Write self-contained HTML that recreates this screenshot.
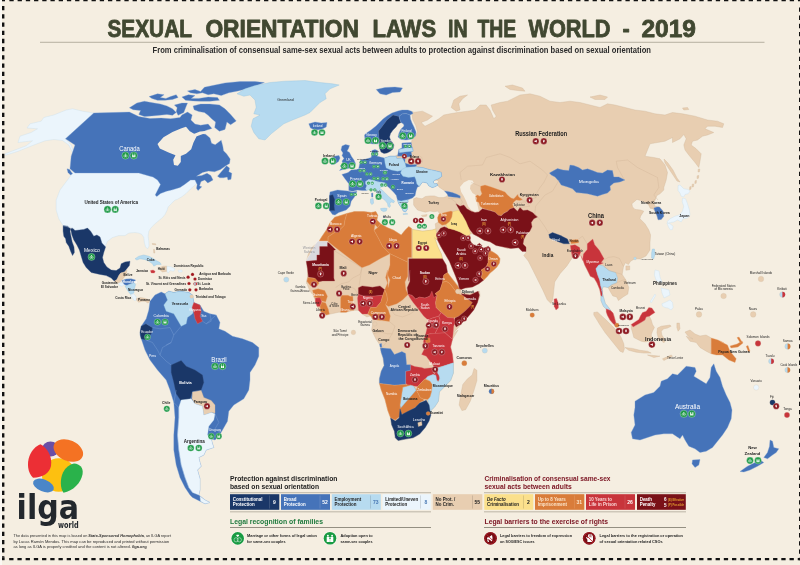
<!DOCTYPE html>
<html><head><meta charset="utf-8"><title>Sexual Orientation Laws in the World - 2019</title>
<style>
html,body{margin:0;padding:0;background:#f5eee1;}
body{width:800px;height:565px;overflow:hidden;}
svg{display:block;font-family:"Liberation Sans",sans-serif;}
</style></head><body>
<svg width="800" height="565" viewBox="0 0 800 565">
<rect x="0" y="0" width="800" height="565" fill="#f5eee1"/>
<rect x="0" y="0" width="2" height="565" fill="#fbf8f2"/>
<path d="M9.4 0.2H800" stroke="#111" stroke-width="2.1" stroke-dasharray="4.3 3.914" fill="none"/>
<path d="M3.2 6V557" stroke="#111" stroke-width="2.4" stroke-dasharray="4.3 3.914" fill="none"/>
<path d="M9.2 559.1H800" stroke="#111" stroke-width="2.3" stroke-dasharray="4.3 3.914" fill="none"/>
<path d="M799.8 7.4V557" stroke="#111" stroke-width="1.6" stroke-dasharray="4.3 3.914" fill="none"/>
<rect x="2" y="0" width="3" height="1.3" fill="#111"/><rect x="2" y="557.2" width="2.6" height="3" fill="#111"/><rect x="798.8" y="557.8" width="1.2" height="2.4" fill="#111"/>
<text x="107.4" y="37.2" font-size="23.5" fill="#414831" stroke="#414831" stroke-width="0.8" stroke-linejoin="round" font-weight="bold" textLength="84.6" lengthAdjust="spacingAndGlyphs">SEXUAL</text>
<text x="205.4" y="37.2" font-size="23.5" fill="#414831" stroke="#414831" stroke-width="0.8" stroke-linejoin="round" font-weight="bold" textLength="153.6" lengthAdjust="spacingAndGlyphs">ORIENTATION</text>
<text x="372.4" y="37.2" font-size="23.5" fill="#414831" stroke="#414831" stroke-width="0.8" stroke-linejoin="round" font-weight="bold" textLength="63.8" lengthAdjust="spacingAndGlyphs">LAWS</text>
<text x="448.0" y="37.2" font-size="23.5" fill="#414831" stroke="#414831" stroke-width="0.8" stroke-linejoin="round" font-weight="bold" textLength="19.6" lengthAdjust="spacingAndGlyphs">IN</text>
<text x="477.4" y="37.2" font-size="23.5" fill="#414831" stroke="#414831" stroke-width="0.8" stroke-linejoin="round" font-weight="bold" textLength="38.8" lengthAdjust="spacingAndGlyphs">THE</text>
<text x="528.4" y="37.2" font-size="23.5" fill="#414831" stroke="#414831" stroke-width="0.8" stroke-linejoin="round" font-weight="bold" textLength="82.2" lengthAdjust="spacingAndGlyphs">WORLD</text>
<text x="622.4" y="37.2" font-size="23.5" fill="#414831" stroke="#414831" stroke-width="0.8" stroke-linejoin="round" font-weight="bold" textLength="7.2" lengthAdjust="spacingAndGlyphs">-</text>
<text x="641.4" y="37.2" font-size="23.5" fill="#414831" stroke="#414831" stroke-width="0.8" stroke-linejoin="round" font-weight="bold" textLength="54.6" lengthAdjust="spacingAndGlyphs">2019</text>
<rect x="40" y="41.8" width="724.5" height="0.9" fill="#aea899"/>
<text x="152.6" y="52.6" font-size="8.3" fill="#2a2a2a" font-weight="bold" textLength="498.4" lengthAdjust="spacingAndGlyphs">From criminalisation of consensual same-sex sexual acts between adults to protection against discrimination based on sexual orientation</text>
<g stroke-linejoin="round">
<polygon points="93.8,113.0 82.5,111.2 72.5,108.8 66.2,110.0 53.8,115.0 43.8,117.5 41.2,121.2 30.0,123.8 27.0,128.0 37.5,128.8 31.2,132.5 20.0,136.2 18.0,142.5 32.5,140.8 26.2,145.8 15.0,150.0 5.0,153.8 5.5,155.2 17.5,151.5 33.8,145.0 45.0,140.8 53.8,139.5 62.5,140.5 68.8,145.0 72.5,152.5 74.0,153.0 71.2,145.0 65.5,138.8" fill="#ebf5fc" stroke="#c5dcea" stroke-width="0.35"/>
<polygon points="75.0,170.0 67.5,180.0 60.0,190.0 56.2,200.0 56.2,210.0 58.8,218.8 63.1,225.6 67.5,226.2 72.5,228.1 75.0,230.6 83.8,229.4 87.5,228.1 90.6,231.2 93.8,236.2 96.9,235.0 100.0,236.9 101.9,243.1 105.6,246.9 105.0,246.9 107.5,241.2 112.5,237.5 118.8,235.6 125.0,235.6 128.8,233.1 135.0,232.5 138.8,233.1 141.9,234.4 143.8,237.5 144.4,242.5 145.6,246.9 147.5,248.8 149.0,246.2 148.8,241.2 148.1,236.2 148.8,231.2 151.2,227.5 155.0,223.8 158.8,220.6 162.5,217.5 165.0,214.4 166.9,210.6 168.1,206.9 171.2,203.8 175.0,200.0 177.0,199.5 182.2,196.5 186.0,193.5 190.5,189.0 196.5,183.8 195.0,177.0 180.0,177.0 150.0,170.0" fill="#ebf5fc" stroke="#c5dcea" stroke-width="0.35"/>
<polygon points="93.8,113.0 129.4,112.1 138.8,116.6 150.0,118.5 161.2,118.1 170.6,118.7 180.0,117.4 181.9,114.9 187.5,112.1 192.2,114.9 190.9,120.0 195.0,124.1 200.6,125.2 208.1,124.1 211.9,128.4 206.2,130.3 199.5,133.5 205.5,134.2 210.0,138.0 211.5,143.2 215.2,144.8 221.2,140.2 222.8,146.2 223.5,150.8 226.5,153.8 230.2,159.0 229.5,163.5 225.8,165.8 220.5,169.5 214.5,171.8 208.5,171.0 202.5,172.5 196.5,176.2 201.8,175.5 207.0,173.2 210.8,175.5 213.0,180.0 207.8,183.0 204.8,180.0 201.0,181.5 199.5,186.0 201.8,186.8 198.0,190.5 196.5,188.2 197.2,184.5 195.0,180.0 190.5,180.0 184.5,184.5 180.0,187.5 172.5,189.8 166.5,191.2 160.5,193.5 156.8,196.5 155.2,195.0 158.2,189.0 160.5,184.5 157.5,180.0 153.0,177.0 150.0,176.2 138.8,173.0 75.0,173.0 70.0,168.8 71.2,156.2 75.0,145.0 65.5,138.8" fill="#4573b9" stroke="#7a9fd4" stroke-width="0.35"/>
<polygon points="157.5,144.0 163.5,137.2 172.5,132.0 181.5,128.2 186.0,126.8 189.8,131.2 195.0,134.2 196.5,136.5 193.5,142.5 191.2,149.2 186.0,153.8 180.8,156.0 180.8,162.0 177.8,165.8 174.0,165.0 173.2,159.8 175.5,155.2 168.0,152.2 159.8,148.5" fill="#f5eee1"/>
<polygon points="192.5,134.5 200.0,131.5 210.0,130.8 222.5,132.0 226.2,135.5 220.5,138.5 213.8,134.8 205.0,133.2 196.2,136.5" fill="#f5eee1"/>
<polygon points="67.0,168.8 69.5,169.5 72.5,173.8 70.5,175.0 68.0,172.5" fill="#4573b9" stroke="#7a9fd4" stroke-width="0.35"/>
<polygon points="129.4,107.8 136.9,103.1 144.4,101.2 152.8,102.8 160.3,104.1 166.9,105.9 172.5,108.8 176.2,112.5 172.5,115.3 166.9,114.4 159.4,115.3 151.9,115.9 144.4,116.6 138.8,114.4 140.6,110.6 133.1,109.7" fill="#4573b9" stroke="#7a9fd4" stroke-width="0.35"/>
<polygon points="149.1,96.6 157.5,93.8 164.1,94.7 160.3,97.5 165.9,98.4 170.6,96.6 176.2,94.7 178.1,97.5 172.5,99.4 165.0,100.3 157.5,100.3 151.9,98.4" fill="#4573b9" stroke="#7a9fd4" stroke-width="0.35"/>
<polygon points="181.9,97.1 188.4,94.7 195.0,95.6 191.2,98.4 198.8,98.4 208.1,97.1 217.5,97.5 219.4,100.3 210.0,101.2 200.6,101.2 193.1,100.9 185.6,100.3" fill="#4573b9" stroke="#7a9fd4" stroke-width="0.35"/>
<polygon points="187.5,90.9 195.0,89.6 200.6,91.5 204.4,87.2 213.8,85.3 225.0,82.9 240.0,81.6 255.0,81.6 264.4,82.5 255.0,86.2 245.6,89.1 238.1,90.9 228.8,92.8 221.2,95.6 213.8,93.8 208.1,94.7 202.5,92.8 196.9,93.8 190.3,92.8" fill="#4573b9" stroke="#7a9fd4" stroke-width="0.35"/>
<polygon points="174.4,105.0 181.9,103.1 187.5,103.1 185.6,107.8 183.8,112.5 178.1,115.3 176.2,111.6 177.2,107.8" fill="#4573b9" stroke="#7a9fd4" stroke-width="0.35"/>
<polygon points="193.1,105.9 200.6,104.1 210.0,104.1 219.4,105.0 225.0,108.8 230.6,114.4 236.2,120.9 230.6,124.7 226.9,121.9 225.0,129.4 219.4,131.2 214.7,127.5 215.6,121.9 211.9,119.1 208.1,115.3 204.4,112.5 198.8,111.6 194.1,109.7" fill="#4573b9" stroke="#7a9fd4" stroke-width="0.35"/>
<polygon points="217.5,176.2 222.0,171.0 226.5,165.8 229.5,168.0 228.8,171.8 231.8,173.2 231.0,179.2 228.0,180.0 227.2,177.0 223.5,177.8 219.8,177.8" fill="#4573b9" stroke="#7a9fd4" stroke-width="0.35"/>
<polygon points="237.0,93.8 245.0,88.8 255.0,85.5 270.0,82.5 285.0,81.2 305.0,80.5 320.0,82.5 332.5,83.8 339.2,85.0 330.0,88.8 325.0,93.8 326.2,98.8 320.0,102.5 315.0,107.5 310.0,112.5 305.0,115.0 292.5,120.0 283.8,123.8 277.5,128.8 271.2,133.8 265.0,140.0 258.8,138.8 253.8,132.5 251.2,126.2 253.0,118.8 260.0,115.0 253.8,113.8 256.2,107.5 255.0,100.0 250.0,95.0 243.8,96.2" fill="#b7dbf0" stroke="#8fbfdc" stroke-width="0.35"/>
<polygon points="70.6,228.8 72.5,228.1 75.0,230.6 83.8,229.4 87.5,228.1 90.6,231.2 93.8,236.2 96.9,235.0 100.0,236.9 101.9,243.1 105.6,246.9 103.8,252.5 102.5,257.5 103.8,262.5 106.9,266.9 111.2,270.0 116.2,270.6 120.0,268.1 121.2,263.8 125.0,261.9 130.0,261.2 129.4,265.6 126.2,269.4 124.4,271.9 120.6,273.1 118.8,275.6 116.9,279.4 114.4,281.2 111.2,278.1 106.2,275.6 100.0,274.4 91.2,272.5 86.2,267.5 83.1,262.5 81.2,256.2 79.4,250.0 76.9,245.0 73.8,240.0 71.9,235.0" fill="#1a3768" stroke="#3a5788" stroke-width="0.35"/>
<polygon points="63.1,225.6 67.5,226.2 70.6,228.8 70.0,231.2 71.0,236.2 72.2,241.9 74.0,246.9 74.4,252.5 72.5,255.6 70.6,251.2 68.8,246.2 66.2,242.5 65.6,238.8 63.8,236.2 63.1,231.2" fill="#1a3768" stroke="#3a5788" stroke-width="0.35"/>
<polygon points="124.4,271.9 126.9,270.0 126.2,275.0 124.4,276.9 123.1,275.0" fill="#e8ceb1" stroke="#cdb497" stroke-width="0.35"/>
<polygon points="114.4,281.2 116.9,279.4 118.8,275.6 120.6,273.1 124.4,271.9 123.1,275.0 124.4,276.9 121.9,280.0 119.4,282.5 116.2,282.8" fill="#e8ceb1" stroke="#cdb497" stroke-width="0.35"/>
<polygon points="121.9,280.6 126.2,279.0 131.2,278.8 135.6,280.0 133.8,282.8 130.0,284.0 126.9,285.6 123.8,284.4" fill="#4573b9" stroke="#7a9fd4" stroke-width="0.35"/>
<polygon points="118.8,283.1 122.5,282.8 124.4,285.0 121.9,286.2 119.0,285.2" fill="#ebf5fc" stroke="#c5dcea" stroke-width="0.35"/>
<polygon points="125.0,286.2 129.4,284.4 134.4,282.8 135.6,284.4 134.4,288.8 133.8,293.1 130.6,294.4 128.1,291.2 126.2,288.1" fill="#b7dbf0" stroke="#8fbfdc" stroke-width="0.35"/>
<polygon points="130.6,294.8 133.8,293.8 136.2,296.9 136.9,300.0 134.4,300.6 132.5,298.1" fill="#ebf5fc" stroke="#c5dcea" stroke-width="0.35"/>
<polygon points="136.2,298.8 140.0,297.5 143.8,298.1 148.1,299.4 150.0,301.2 148.1,303.1 145.0,301.2 141.9,301.2 138.8,302.2 136.9,300.6" fill="#e8ceb1" stroke="#cdb497" stroke-width="0.35"/>
<polygon points="135.0,258.8 138.8,256.2 143.8,255.0 148.8,256.2 152.5,258.1 156.2,260.6 160.0,262.5 161.2,264.4 156.9,264.4 153.8,266.2 152.5,263.8 148.8,261.2 144.4,259.4 140.0,258.8 136.9,260.0" fill="#b7dbf0" stroke="#8fbfdc" stroke-width="0.35"/>
<polygon points="160.0,267.5 163.1,266.2 166.9,266.2 166.9,271.2 162.5,271.9 160.6,270.6" fill="#e8ceb1" stroke="#cdb497" stroke-width="0.35"/>
<polygon points="166.9,266.2 171.2,266.9 175.0,268.8 173.8,271.2 170.0,270.6 168.1,273.1 166.9,271.2" fill="#ebf5fc" stroke="#c5dcea" stroke-width="0.35"/>
<polygon points="150.4,270.6 153.1,270.0 155.2,271.2 154.4,273.1 151.2,272.9" fill="#c8343b" stroke="#e07a7e" stroke-width="0.35"/>
<polygon points="178.1,270.2 181.9,270.0 182.2,271.9 178.8,272.2" fill="#ebf5fc" stroke="#c5dcea" stroke-width="0.35"/>
<polygon points="152.2,243.5 155.6,243.8 155.9,244.8 152.5,244.5" fill="#e8ceb1" stroke="#cdb497" stroke-width="0.35"/>
<polygon points="153.5,249.4 154.5,249.4 154.8,253.1 153.8,253.1" fill="#e8ceb1" stroke="#cdb497" stroke-width="0.35"/>
<polygon points="150.0,301.2 155.0,295.0 161.2,292.0 165.0,293.8 168.8,291.2 173.8,292.5 180.0,291.2 188.8,292.5 192.5,295.0 193.8,302.5 200.0,305.0 203.8,311.2 210.0,313.8 216.2,315.0 220.0,322.5 218.8,328.8 225.0,331.2 232.5,336.2 242.5,338.8 252.5,342.5 258.8,347.5 258.8,356.2 255.0,365.0 250.0,372.5 250.0,380.0 248.8,390.0 243.8,398.8 233.8,405.0 228.8,411.2 227.5,421.2 222.5,430.0 218.8,436.2 215.0,440.0 211.2,438.8 212.5,443.8 213.8,447.5 206.2,450.0 203.8,455.0 198.8,457.5 200.0,462.5 201.2,466.2 197.5,470.0 200.0,478.8 200.0,490.0 198.8,495.0 205.0,500.0 210.0,502.5 205.0,503.8 197.5,500.0 192.5,497.5 190.0,495.0 185.0,487.5 180.0,477.5 176.2,465.0 173.8,450.0 173.8,435.0 175.0,417.5 173.8,402.5 170.0,390.0 166.2,380.0 157.5,370.0 150.0,360.0 145.0,350.0 142.5,342.5 140.0,335.0 141.2,326.2 146.2,318.8 148.8,310.0" fill="#4573b9" stroke="#7a9fd4" stroke-width="0.35"/>
<polygon points="165.0,293.8 168.8,291.2 173.8,292.5 180.0,291.2 188.8,292.5 192.5,295.0 193.8,302.5 195.0,307.5 192.5,313.8 187.5,317.5 186.2,323.8 181.2,326.2 177.5,320.0 173.8,313.8 166.2,311.2 163.8,305.0 167.5,300.0" fill="#b7dbf0" stroke="#8fbfdc" stroke-width="0.35"/>
<polygon points="193.8,302.5 200.0,305.0 201.2,311.2 200.0,316.2 202.5,321.2 197.5,323.8 195.0,318.8 193.8,312.5 192.0,307.5" fill="#c8343b" stroke="#e07a7e" stroke-width="0.35"/>
<polygon points="141.2,326.2 146.2,323.8 152.5,327.5 151.2,333.8 146.2,340.0 141.2,338.8 140.0,332.5" fill="#1a3768" stroke="#3a5788" stroke-width="0.35"/>
<polygon points="171.2,365.0 181.2,360.5 186.2,366.2 195.0,370.0 202.5,375.0 203.8,382.5 201.2,390.0 192.5,391.2 190.0,400.0 181.2,401.2 176.2,393.8 173.8,382.5 171.2,372.5" fill="#1a3768" stroke="#3a5788" stroke-width="0.35"/>
<polygon points="192.5,392.0 201.2,390.5 203.8,397.5 211.2,400.5 215.0,405.0 215.0,413.0 211.2,412.5 203.8,415.0 202.5,406.2 195.0,403.8 192.0,398.8" fill="#e8ceb1" stroke="#cdb497" stroke-width="0.35"/>
<polygon points="181.2,400.0 191.2,398.8 195.0,403.8 202.5,406.2 203.8,415.0 211.2,412.5 215.0,413.8 213.8,420.0 208.8,426.2 207.5,435.0 211.2,438.8 212.5,443.8 213.8,447.5 206.2,450.0 203.8,455.0 198.8,457.5 200.0,462.5 201.2,466.2 197.5,470.0 200.0,478.8 200.0,490.0 198.8,495.0 192.5,492.5 188.8,487.5 185.0,477.5 181.2,465.0 178.8,450.0 177.5,435.0 178.8,417.5 178.8,407.5" fill="#ebf5fc" stroke="#c5dcea" stroke-width="0.35"/>
<polygon points="200.0,496.2 205.0,500.0 210.0,502.5 205.0,503.8 200.5,501.2" fill="#ebf5fc" stroke="#c5dcea" stroke-width="0.35"/>
<polygon points="321.6,236.9 326.2,230.3 330.0,222.8 334.7,217.2 341.2,215.3 346.9,213.4 354.4,211.6 363.8,211.6 371.2,212.5 375.9,211.6 377.8,215.3 376.9,220.0 380.6,223.8 387.2,227.5 393.8,230.3 401.2,235.0 405.0,230.3 408.8,226.6 411.6,228.4 412.5,229.5 422.5,231.2 432.5,230.0 436.2,228.8 440.0,232.5 438.8,237.5 437.0,240.0 434.5,237.5 437.5,246.2 441.2,253.8 442.5,258.8 446.2,265.0 447.5,272.5 451.2,277.5 457.5,285.0 460.0,288.8 462.0,293.0 470.0,293.8 479.5,291.2 480.0,296.2 476.2,305.0 470.0,313.8 462.5,322.5 456.2,330.0 452.5,335.0 458.1,330.0 452.5,339.4 450.6,346.9 452.5,354.4 453.4,362.8 453.4,373.1 450.6,380.6 445.0,386.2 439.4,391.9 438.4,401.2 434.7,406.9 430.9,410.6 430.9,413.4 429.1,418.1 426.2,423.8 422.5,429.4 416.9,435.9 413.1,437.8 405.6,439.1 398.1,440.6 395.3,437.8 394.4,431.2 391.6,424.7 390.6,418.1 390.6,418.1 387.8,410.6 385.0,399.4 381.2,390.0 379.4,383.4 379.4,378.8 381.2,371.2 384.1,365.6 383.1,358.1 381.2,352.5 380.3,347.8 380.9,348.8 380.0,345.0 376.2,339.4 373.4,333.8 371.6,330.0 372.5,324.4 372.5,319.7 370.6,315.9 366.9,316.9 362.2,314.1 358.4,310.3 353.8,310.3 346.2,312.2 338.8,312.2 330.3,314.1 326.6,315.0 320.9,312.2 317.2,306.6 315.3,300.0 312.5,294.4 309.7,290.6 307.8,285.9 306.9,281.2 307.8,277.5 306.6,283.8 307.5,277.2 307.5,268.8 306.6,260.3 308.4,253.8 312.2,247.2 318.8,241.6" fill="#e8ceb1" stroke="#cdb497" stroke-width="0.35"/>
<polygon points="334.7,217.2 341.2,215.3 346.9,213.4 345.0,220.0 344.1,225.6 339.4,230.3 333.8,233.1 328.1,236.9 328.1,241.6 318.8,241.6 321.6,236.9 326.2,230.3 330.0,222.8" fill="#d97c3a" stroke="#e8a470" stroke-width="0.35"/>
<polygon points="346.9,213.4 354.4,211.6 363.8,211.6 371.2,212.5 372.2,218.1 375.0,224.7 374.1,230.3 378.8,238.8 382.5,246.2 390.0,253.8 380.6,258.4 369.4,265.0 361.9,267.8 333.8,246.2 328.1,241.6 328.1,236.9 333.8,233.1 339.4,230.3 344.1,225.6 345.0,220.0" fill="#d97c3a" stroke="#e8a470" stroke-width="0.35"/>
<polygon points="371.2,212.5 375.9,211.6 377.8,215.3 376.9,220.0 380.6,223.8 377.8,227.5 375.0,224.7 372.2,218.1" fill="#d97c3a" stroke="#e8a470" stroke-width="0.35"/>
<polygon points="380.6,223.8 387.2,227.5 393.8,230.3 401.2,235.0 405.0,230.3 408.8,226.6 411.6,228.4 411.6,257.5 407.8,257.5 407.8,262.2 390.0,253.8 382.5,246.2 378.8,238.8 374.1,230.3 377.8,227.5" fill="#d97c3a" stroke="#e8a470" stroke-width="0.35"/>
<polygon points="317.5,241.2 327.5,241.2 327.5,246.6 319.7,246.6 319.7,255.0 316.9,255.0 316.9,260.3 306.2,261.2 307.5,258.1 310.0,254.4 312.5,249.4 315.0,245.0" fill="#dad9de" stroke="#fbfbfb" stroke-width="0.35"/>
<polygon points="327.5,246.6 327.5,242.5 328.8,243.1 335.6,249.7 333.8,250.3 333.8,278.1 334.7,280.9 322.5,280.9 317.8,281.9 314.1,278.1 308.4,277.2 307.5,268.8 306.2,261.2 316.9,260.3 316.9,255.0 319.7,255.0 319.7,246.6" fill="#7a1118" stroke="#a04048" stroke-width="0.35"/>
<polygon points="390.0,253.8 407.8,262.2 407.8,276.2 405.0,281.9 405.9,289.4 408.1,294.4 402.5,300.0 396.9,303.8 388.4,306.6 385.6,304.7 387.5,300.0 386.6,294.4 384.7,289.7 387.5,283.1 385.6,277.5 387.5,270.0 388.1,287.5 390.0,280.0 387.2,274.4 390.0,265.0" fill="#d97c3a" stroke="#e8a470" stroke-width="0.35"/>
<polygon points="412.5,229.5 422.5,231.2 432.5,230.0 436.2,228.8 440.0,232.5 438.8,237.5 437.0,240.0 434.5,237.5 437.5,246.2 441.2,253.8 442.5,258.8 412.5,258.8" fill="#fbe08c" stroke="#d9c070" stroke-width="0.35"/>
<polygon points="408.8,258.8 442.5,258.8 446.2,265.0 447.5,272.5 443.8,275.0 442.5,282.5 440.0,290.0 435.0,293.8 437.2,295.3 434.4,298.1 429.7,296.2 425.0,298.1 419.4,297.2 415.6,299.1 411.9,295.3 408.1,294.4 407.2,287.8 410.0,281.2 410.0,270.0 408.8,281.2" fill="#7a1118" stroke="#a04048" stroke-width="0.35"/>
<polygon points="408.1,294.4 411.9,295.2 415.6,299.0 419.4,297.1 425.0,298.1 429.6,296.2 431.9,291.2 433.8,297.5 437.1,295.2 435.6,302.5 436.2,307.5 441.2,312.5 438.8,316.2 432.5,318.1 428.1,320.0 423.8,316.2 420.0,311.2 416.2,306.2 413.1,302.5 410.0,298.1" fill="#c8343b" stroke="#e07a7e" stroke-width="0.35"/>
<polygon points="443.8,275.0 447.5,272.5 451.2,277.5 455.0,282.5 458.8,287.5 460.0,290.6 456.2,291.9 453.8,288.8 450.0,283.8 446.2,281.2 442.5,282.5" fill="#d97c3a" stroke="#e8a470" stroke-width="0.35"/>
<polygon points="442.5,282.5 446.2,281.2 450.0,283.8 453.8,288.8 456.2,291.9 460.0,294.4 462.5,295.0 467.5,298.8 472.5,302.5 470.0,306.2 465.0,311.2 458.8,316.2 453.8,318.1 447.5,317.5 441.2,312.5 436.2,307.5 435.6,302.5 437.1,295.2 435.0,293.8 440.0,290.0" fill="#d97c3a" stroke="#e8a470" stroke-width="0.35"/>
<polygon points="461.2,293.8 470.0,295.0 478.1,291.2 479.4,295.0 477.5,302.5 473.8,310.0 467.5,317.5 461.2,323.8 456.2,326.9 453.8,322.5 455.0,318.1 458.8,316.2 465.0,311.2 470.0,306.2 472.5,302.5 467.5,298.8 462.5,295.0" fill="#7a1118" stroke="#a04048" stroke-width="0.35"/>
<polygon points="438.8,316.2 441.2,312.5 447.5,317.5 453.8,318.1 455.0,322.5 453.8,326.0 452.5,339.4 445.0,332.8 434.7,334.1 438.8,326.0 440.0,320.0" fill="#c8343b" stroke="#e07a7e" stroke-width="0.35"/>
<polygon points="428.1,320.0 432.5,318.1 438.8,316.2 440.0,320.0 438.8,326.0 434.7,334.1 430.0,333.8 425.3,335.6 427.5,326.0" fill="#c8343b" stroke="#e07a7e" stroke-width="0.35"/>
<polygon points="425.3,335.6 430.0,333.8 445.0,332.8 452.5,339.4 450.6,346.9 452.5,354.4 453.4,362.8 445.0,365.6 437.5,367.5 438.4,373.1 440.3,376.9 438.4,381.6 435.6,378.8 434.7,373.1 434.7,367.5 426.2,356.2 421.6,354.4 424.4,348.8 423.4,341.2" fill="#c8343b" stroke="#e07a7e" stroke-width="0.35"/>
<polygon points="405.6,371.2 410.3,370.3 410.3,364.7 415.0,366.6 421.6,367.5 424.4,368.4 434.7,367.5 433.0,372.2 436.0,375.6 433.0,374.5 427.8,376.4 425.9,378.6 424.8,379.0 419.5,384.6 417.6,386.5 413.5,386.1 408.2,386.5 406.0,383.5 405.6,384.4" fill="#c8343b" stroke="#e07a7e" stroke-width="0.35"/>
<polygon points="425.4,338.4 429.7,337.9 430.2,342.2 426.1,343.1" fill="#d97c3a" stroke="#e8a470" stroke-width="0.35"/>
<polygon points="425.9,378.6 427.8,376.4 433.0,374.5 436.0,375.6 436.8,380.5 438.2,382.0 439.8,379.0 439.0,375.6 437.5,373.0 437.9,368.1 445.0,365.6 453.4,362.8 453.4,373.1 450.6,380.6 445.0,386.2 439.4,391.9 438.4,401.2 434.7,406.9 430.9,410.6 431.5,412.0 429.2,412.0 428.9,405.2 428.1,401.5 427.8,399.6 430.0,397.0 431.5,391.8 432.2,384.6 430.0,381.2" fill="#b7dbf0" stroke="#8fbfdc" stroke-width="0.35"/>
<polygon points="417.6,386.5 419.5,384.6 424.8,379.0 430.0,381.2 432.2,384.6 431.5,391.8 430.0,397.0 427.8,399.6 423.2,398.9 420.2,397.8 418.0,393.2 416.1,390.2" fill="#d97c3a" stroke="#e8a470" stroke-width="0.35"/>
<polygon points="402.8,387.2 410.3,385.3 413.5,386.1 416.1,390.2 418.0,393.2 420.2,397.8 423.2,398.9 424.0,400.4 420.2,402.2 417.2,406.0 404.7,414.4 400.0,413.4 400.0,405.0" fill="#d97c3a" stroke="#e8a470" stroke-width="0.35"/>
<polygon points="402.8,387.2 410.3,385.3 413.5,386.1 416.1,390.2 400.9,407.8 400.0,405.0" fill="#b7dbf0" stroke="#8fbfdc" stroke-width="0.35"/>
<polygon points="380.3,347.8 390.6,348.8 394.4,354.4 401.9,351.6 405.6,353.4 406.6,364.7 410.3,364.7 410.3,370.3 405.6,371.2 405.6,384.4 394.4,385.3 379.4,383.4 379.4,378.8 381.2,371.2 384.1,365.6 383.1,358.1 381.2,352.5" fill="#4573b9" stroke="#7a9fd4" stroke-width="0.35"/>
<polygon points="379.6,344.1 381.5,343.5 381.9,347.2 380.0,346.9" fill="#4573b9" stroke="#7a9fd4" stroke-width="0.35"/>
<polygon points="379.4,383.4 394.4,385.3 405.6,384.4 410.3,385.3 402.8,387.2 400.0,405.0 400.0,416.2 395.3,420.0 390.6,418.1 387.8,410.6 385.0,399.4 381.2,390.0" fill="#d97c3a" stroke="#e8a470" stroke-width="0.35"/>
<polygon points="390.6,418.1 395.3,420.9 399.1,418.1 400.0,408.8 401.9,414.4 407.5,411.6 415.0,407.8 419.7,403.1 426.2,400.3 429.1,405.0 430.0,410.6 430.9,415.3 429.1,420.9 425.3,427.5 419.7,434.1 413.1,437.8 405.6,439.1 398.1,440.6 395.3,437.8 394.4,431.2 391.6,424.7" fill="#1a3768" stroke="#3a5788" stroke-width="0.35"/>
<polygon points="417.8,422.8 421.6,421.5 422.1,425.2 418.4,426.6" fill="#e8ceb1" stroke="#cdb497" stroke-width="0.35"/>
<polygon points="307.8,277.5 315.3,278.4 319.1,283.1 317.2,285.9 310.6,285.9 306.9,281.2" fill="#d97c3a" stroke="#e8a470" stroke-width="0.35"/>
<polygon points="312.5,290.2 318.1,288.8 324.7,290.6 327.5,296.2 325.6,301.9 321.9,300.9 318.1,298.1 314.4,297.2" fill="#d97c3a" stroke="#e8a470" stroke-width="0.35"/>
<polygon points="315.3,298.1 320.0,297.8 321.9,301.9 320.0,306.6 317.2,306.6 315.3,301.9" fill="#c8343b" stroke="#e07a7e" stroke-width="0.35"/>
<polygon points="320.0,306.6 321.9,301.9 325.6,302.8 328.4,309.4 329.4,314.1 326.6,315.0 320.9,312.2" fill="#d97c3a" stroke="#e8a470" stroke-width="0.35"/>
<polygon points="340.6,298.1 341.6,295.3 348.1,295.3 350.0,296.2 352.8,296.2 353.8,310.3 350.0,310.3 346.2,312.2 340.6,312.2" fill="#d97c3a" stroke="#e8a470" stroke-width="0.35"/>
<polygon points="358.4,287.8 362.2,285.9 372.5,287.2 380.0,285.9 384.7,289.7 382.8,295.3 372.5,296.2 363.1,295.9 358.4,294.4" fill="#7a1118" stroke="#a04048" stroke-width="0.35"/>
<polygon points="357.5,298.1 358.4,294.4 363.1,295.9 372.5,296.2 382.8,295.3 380.9,301.9 376.2,307.5 370.6,307.5 367.8,314.1 362.2,314.1 358.4,310.3" fill="#c8343b" stroke="#e07a7e" stroke-width="0.35"/>
<polygon points="382.8,295.3 384.7,289.7 386.6,294.4 387.5,300.0 385.6,304.7 388.4,310.3 390.3,315.9 389.4,321.6 381.9,320.6 373.4,319.7 370.6,315.9 367.8,314.1 370.6,307.5 376.2,307.5 380.9,301.9" fill="#d97c3a" stroke="#e8a470" stroke-width="0.35"/>
<polygon points="474.1,368.4 476.9,370.3 476.9,380.6 474.1,390.0 470.3,401.2 465.6,409.7 461.9,410.6 459.1,405.0 460.9,393.8 462.8,384.4 467.5,378.8 472.2,375.0" fill="#e8ceb1" stroke="#cdb497" stroke-width="0.35"/>
<polygon points="412.8,111.2 412.5,112.5 422.5,111.2 432.5,116.2 427.5,120.0 421.2,122.5 425.0,126.2 432.5,122.5 438.8,118.8 443.8,115.0 450.0,113.8 457.5,112.5 467.5,111.2 475.0,110.0 480.0,105.0 486.2,105.0 490.0,110.0 493.8,118.8 496.2,116.2 492.5,110.0 491.2,105.0 500.0,102.5 507.5,101.2 515.0,97.5 520.0,95.0 530.0,93.8 540.0,96.2 550.0,101.2 560.0,102.5 570.0,101.2 580.0,102.5 590.0,105.0 600.0,107.5 607.5,103.8 615.0,105.0 625.0,107.5 635.0,110.0 645.0,111.2 655.0,113.8 665.0,115.0 672.5,112.5 682.5,113.8 695.0,116.2 707.5,120.0 717.5,121.2 723.8,123.8 722.5,127.5 715.0,126.2 707.5,126.2 705.0,128.8 713.8,132.5 707.5,135.0 702.5,136.2 697.5,140.0 692.5,141.2 691.2,145.0 696.2,148.8 701.2,153.8 700.0,161.2 698.8,167.5 695.0,162.5 688.8,155.0 685.0,150.0 683.8,145.0 686.2,138.8 683.8,134.5 680.0,138.8 672.5,142.5 672.5,137.5 665.0,141.2 657.5,142.5 650.0,143.8 647.5,150.0 645.0,156.2 653.8,157.5 660.0,158.8 665.0,165.0 667.5,172.5 666.2,180.0 663.8,187.5 663.8,190.0 660.0,193.8 656.9,195.6 655.6,198.8 653.8,203.1 655.0,206.2 659.4,206.9 663.1,211.2 663.8,216.2 661.2,219.4 658.1,219.8 656.9,215.6 655.0,211.2 653.1,208.8 650.0,208.1 648.8,205.0 645.0,201.9 640.6,200.6 636.9,199.4 631.9,203.8 632.5,206.9 635.0,209.4 640.6,210.0 643.8,211.2 640.6,216.2 640.0,218.8 645.0,223.8 648.8,230.0 650.6,235.0 650.0,242.5 650.0,250.0 646.0,256.0 640.0,259.0 634.8,258.8 630.6,261.2 628.4,264.6 625.4,262.8 623.5,266.5 622.2,274.4 625.9,280.0 628.8,287.5 627.8,294.1 623.1,296.9 618.4,300.6 616.6,296.9 612.8,295.9 610.0,291.2 608.1,287.5 603.4,286.6 601.6,290.3 603.4,296.9 605.3,303.4 609.1,308.1 610.9,310.9 613.8,314.7 615.6,321.2 616.6,325.0 613.8,324.1 610.0,320.3 607.2,314.7 606.2,309.1 603.4,306.2 601.0,300.6 601.0,295.9 599.7,289.4 596.9,282.8 594.1,278.1 590.3,276.2 587.5,270.6 584.7,265.0 582.8,259.4 580.9,255.6 574.4,253.8 573.4,256.6 570.6,260.3 566.9,265.9 560.3,273.4 554.7,281.9 553.8,290.3 552.8,299.7 550.9,303.4 547.2,299.7 542.5,289.4 537.8,280.0 533.1,270.6 528.4,261.2 523.8,255.6 526.2,252.2 526.2,248.4 523.4,245.6 517.8,247.5 507.5,248.4 501.9,246.6 496.2,244.7 490.0,241.8 484.0,240.2 478.0,236.5 473.5,234.2 470.5,233.5 469.0,238.0 471.2,242.5 473.5,244.8 476.5,245.5 479.5,243.2 481.8,245.5 481.0,248.5 484.8,247.8 488.5,246.2 490.0,250.0 493.8,252.5 497.5,255.0 500.0,258.8 499.4,263.1 496.9,266.9 493.8,270.0 490.0,273.1 487.5,276.2 483.8,280.0 478.8,283.8 472.5,286.9 465.0,288.1 461.2,289.4 459.4,288.8 458.1,283.1 455.6,276.2 452.5,268.8 449.4,261.2 445.0,253.8 440.6,246.2 437.5,240.0 436.8,233.5 436.0,229.8 435.2,223.8 439.4,221.2 438.9,217.3 439.4,213.4 437.8,211.1 434.4,211.7 429.9,211.1 425.4,212.2 420.9,211.1 417.5,210.0 415.2,207.2 413.6,204.9 413.6,202.1 413.6,198.8 416.4,197.6 418.6,198.2 422.0,198.8 425.4,196.5 429.9,195.9 434.4,195.9 438.9,197.6 443.4,197.6 446.8,196.5 447.9,193.7 445.6,191.4 442.2,189.2 438.9,186.9 437.8,185.2 436.6,183.6 438.9,181.9 437.2,180.2 434.4,180.2 438.9,178.5 441.7,176.2 441.1,172.3 434.4,170.6 428.8,169.5 423.1,167.8 413.8,166.6 405.3,165.6 403.4,157.2 396.5,157.8 395.9,155.3 401.6,155.3 410.9,155.3 410.0,150.6 412.8,149.7 411.9,145.9 410.9,145.0 411.9,140.3 414.7,136.6 417.5,131.9 415.6,125.3 412.8,119.7 411.9,114.1" fill="#e8ceb1" stroke="#cdb497" stroke-width="0.35"/>
<polygon points="451.2,107.5 453.8,100.0 460.0,96.2 467.5,95.0 462.5,98.8 458.8,103.8 460.0,110.0 456.2,111.2" fill="#e8ceb1" stroke="#cdb497" stroke-width="0.35"/>
<polygon points="505.0,86.2 512.5,85.0 522.5,88.0 525.0,91.2 517.5,90.5 510.0,89.5" fill="#e8ceb1" stroke="#cdb497" stroke-width="0.35"/>
<polygon points="590.0,97.0 600.0,95.0 607.5,97.0 605.0,99.5 595.0,99.5" fill="#e8ceb1" stroke="#cdb497" stroke-width="0.35"/>
<polygon points="682.5,108.0 687.5,107.5 688.8,109.5 683.8,110.0" fill="#e8ceb1" stroke="#cdb497" stroke-width="0.35"/>
<polygon points="664.0,159.0 668.0,163.0 673.0,170.0 677.0,178.0 680.0,182.0 677.0,181.0 673.0,175.0 669.0,169.0 665.0,163.0" fill="#e8ceb1" stroke="#cdb497" stroke-width="0.35"/>
<polygon points="625.9,265.9 629.7,265.9 629.7,269.7 625.9,270.2" fill="#e8ceb1" stroke="#cdb497" stroke-width="0.35"/>
<polygon points="698.2,169.2 699.8,169.0 699.5,171.8 698.0,172.0" fill="#e8ceb1" stroke="#cdb497" stroke-width="0.35"/>
<polygon points="697.2,175.8 698.8,175.5 698.5,178.2 697.0,178.5" fill="#e8ceb1" stroke="#cdb497" stroke-width="0.35"/>
<polygon points="695.0,180.8 696.5,180.5 696.2,183.2 694.8,183.5" fill="#e8ceb1" stroke="#cdb497" stroke-width="0.35"/>
<polygon points="692.2,184.2 693.8,184.0 693.5,186.8 692.0,187.0" fill="#e8ceb1" stroke="#cdb497" stroke-width="0.35"/>
<polygon points="689.8,186.8 691.2,186.5 691.0,189.2 689.5,189.5" fill="#e8ceb1" stroke="#cdb497" stroke-width="0.35"/>
<polygon points="460.0,186.9 463.8,182.5 468.8,180.0 472.5,180.6 473.8,183.1 470.6,185.0 470.0,188.8 472.5,193.1 475.6,195.0 475.0,198.8 476.9,202.5 478.1,207.5 478.8,211.2 475.0,211.9 471.2,210.0 468.1,206.2 466.2,201.2 463.8,196.2 461.2,191.9" fill="#f5eee1"/>
<polygon points="549.4,173.1 553.8,170.6 557.5,168.5 563.1,170.0 568.8,170.6 570.0,165.0 573.8,165.6 578.8,167.5 582.5,170.0 587.5,168.8 592.5,170.6 597.5,172.5 602.5,173.1 607.5,170.0 612.5,170.6 613.8,176.9 618.8,176.9 625.0,180.0 620.0,181.9 613.8,183.1 610.0,186.2 610.6,190.0 607.5,193.1 602.5,194.4 597.5,196.2 592.5,195.0 587.5,193.8 581.2,193.1 576.2,192.5 572.5,188.8 567.5,186.9 561.2,185.0 558.8,181.2 555.0,176.9 551.2,175.0" fill="#4573b9" stroke="#7a9fd4" stroke-width="0.35"/>
<polygon points="480.6,186.2 485.0,185.0 491.2,186.9 496.2,188.8 501.2,190.6 505.0,191.9 507.5,195.0 511.2,198.1 513.8,198.8 516.2,196.2 517.5,194.4 518.8,196.9 522.5,199.4 520.0,200.6 516.2,200.0 513.8,201.9 512.5,204.4 513.8,207.5 510.0,208.8 507.5,211.2 503.8,213.1 501.2,215.6 498.1,215.0 495.0,211.9 491.2,210.6 486.2,209.4 482.5,208.1 480.0,206.2 478.8,202.5 476.2,201.2 476.9,198.1 475.6,196.2 477.5,195.0 480.0,196.2 481.9,193.8 480.6,190.0" fill="#d97c3a" stroke="#e8a470" stroke-width="0.35"/>
<polygon points="456.2,203.8 460.0,206.2 463.8,205.0 466.9,208.8 471.2,211.2 475.0,212.5 478.8,211.9 482.5,208.8 486.2,209.8 491.2,211.0 495.0,212.2 498.1,215.2 501.2,216.0 503.8,213.5 507.5,211.5 510.0,209.0 513.8,207.8 517.5,211.2 520.0,207.5 523.1,210.6 527.5,210.0 532.5,212.5 537.5,216.9 533.8,218.8 531.2,222.5 532.0,226.8 529.8,231.2 526.0,235.0 523.8,239.5 523.0,244.0 526.0,247.0 526.0,251.5 522.2,251.5 518.5,247.8 511.0,248.5 503.5,247.0 496.0,245.5 490.0,241.8 484.0,240.2 478.0,236.5 473.5,234.2 470.5,230.5 467.5,226.0 464.5,220.0 461.5,214.8 459.2,209.5 456.2,204.2" fill="#7a1118" stroke="#a04048" stroke-width="0.35"/>
<polygon points="436.8,233.5 440.5,228.2 444.2,226.8 448.0,228.2 454.0,229.8 460.0,232.0 465.2,235.0 469.0,238.0 471.2,242.5 473.5,244.8 476.5,245.5 479.5,243.2 481.8,245.5 481.0,248.5 484.8,247.8 488.5,246.2 490.0,250.0 488.1,257.5 488.1,262.5 486.2,266.9 481.2,270.0 482.5,272.5 481.2,277.5 483.8,280.0 478.8,283.8 472.5,286.9 465.0,288.1 461.2,289.4 459.4,288.8 458.1,283.1 455.6,276.2 452.5,268.8 449.4,261.2 445.0,253.8 440.6,246.2 437.5,240.0" fill="#7a1118" stroke="#a04048" stroke-width="0.35"/>
<polygon points="488.8,252.5 490.0,250.6 493.8,252.5 497.5,255.0 500.0,258.8 499.4,263.1 496.9,266.9 493.8,270.0 490.0,273.1 487.5,276.2 483.8,280.0 481.2,277.5 482.5,272.5 481.2,270.0 486.2,266.9 488.1,262.5 488.1,257.5" fill="#d97c3a" stroke="#e8a470" stroke-width="0.35"/>
<polygon points="467.8,235.8 469.9,235.4 470.5,238.3 468.7,238.3" fill="#d97c3a" stroke="#e8a470" stroke-width="0.35"/>
<polygon points="452.5,211.8 458.5,210.2 462.2,214.8 466.0,221.5 469.0,229.0 470.5,233.5 467.8,235.8 465.2,235.0 460.0,232.0 454.0,229.8 448.0,228.2 445.8,224.5 449.5,221.5 451.8,217.0" fill="#fbe08c" stroke="#d9c070" stroke-width="0.35"/>
<polygon points="439.0,214.0 445.0,212.5 451.0,211.0 452.5,211.8 451.8,217.0 449.5,221.5 445.8,224.5 442.0,225.2 438.2,222.2 437.5,217.8" fill="#d97c3a" stroke="#e8a470" stroke-width="0.35"/>
<polygon points="444.5,190.9 447.9,191.4 452.4,192.6 456.9,194.2 460.2,195.9 460.2,198.2 456.9,197.6 452.4,197.1 448.4,196.5 447.3,194.2" fill="#4573b9" stroke="#7a9fd4" stroke-width="0.35"/>
<polygon points="421.4,215.4 427.1,214.5 426.5,216.2 422.6,216.8" fill="#e8ceb1" stroke="#cdb497" stroke-width="0.35"/>
<polygon points="548.8,234.4 552.5,232.5 560.0,235.3 567.5,239.1 569.4,243.8 563.8,243.8 556.2,240.9 549.7,238.1" fill="#1a3768" stroke="#3a5788" stroke-width="0.35"/>
<polygon points="570.3,240.0 577.8,239.6 578.8,242.8 571.2,243.8" fill="#d97c3a" stroke="#e8a470" stroke-width="0.35"/>
<polygon points="570.3,245.6 575.0,244.7 579.7,247.5 580.6,252.2 578.8,256.9 575.9,258.8 572.2,256.9 571.2,251.2" fill="#c8343b" stroke="#e07a7e" stroke-width="0.35"/>
<polygon points="554.1,299.1 556.6,298.4 558.4,303.4 558.4,308.1 556.0,310.0 554.1,306.2" fill="#c8343b" stroke="#e07a7e" stroke-width="0.35"/>
<polygon points="587.2,243.8 592.8,239.1 594.7,244.7 599.4,250.3 604.1,258.8 601.2,262.5 603.4,263.1 598.8,265.0 595.9,268.8 597.8,275.3 599.7,280.0 600.6,285.6 602.5,291.2 602.5,296.9 601.0,295.9 599.7,289.4 596.9,282.8 594.1,278.1 590.3,276.2 587.5,270.6 584.7,265.0 582.8,259.4 580.9,255.6 582.5,260.6 583.4,254.1 587.2,249.4" fill="#c8343b" stroke="#e07a7e" stroke-width="0.35"/>
<polygon points="595.9,268.8 598.8,265.0 603.4,265.9 609.1,270.6 615.6,272.5 617.5,278.1 616.6,282.8 611.9,284.7 608.1,287.5 603.4,286.6 601.6,290.3 603.4,296.9 605.3,303.4 609.1,308.1 610.9,310.9 607.2,310.0 603.4,306.2 601.0,300.6 601.0,295.9 602.5,296.9 602.5,291.2 600.6,285.6 599.7,280.0 597.8,275.3" fill="#b7dbf0" stroke="#8fbfdc" stroke-width="0.35"/>
<polygon points="606.2,308.8 610.6,310.6 613.1,313.1 614.4,317.5 615.6,321.9 616.9,325.0 615.0,325.6 612.5,323.1 610.0,320.0 607.5,315.6 606.2,311.9" fill="#c8343b" stroke="#e07a7e" stroke-width="0.35"/>
<polygon points="653.8,208.1 656.9,206.9 659.4,206.9 663.1,211.2 663.8,216.2 661.2,219.4 658.1,219.8 656.9,215.6 655.0,211.2" fill="#4573b9" stroke="#7a9fd4" stroke-width="0.35"/>
<polygon points="678.1,185.6 680.0,185.0 683.8,188.8 688.1,189.4 690.0,191.2 688.1,193.8 685.0,194.4 683.8,196.9 681.2,196.2 680.0,193.1 678.1,190.6" fill="#ebf5fc" stroke="#c5dcea" stroke-width="0.35"/>
<polygon points="682.5,198.1 685.6,198.8 687.5,203.8 689.4,210.0 690.0,215.0 687.5,218.1 683.1,218.8 681.2,221.9 677.5,220.0 673.8,221.9 671.2,222.5 668.1,223.1 666.9,221.9 670.0,218.8 675.0,216.2 679.4,215.0 682.5,211.2 683.8,206.2 682.2,201.9" fill="#ebf5fc" stroke="#c5dcea" stroke-width="0.35"/>
<polygon points="666.9,223.1 670.0,223.8 673.1,226.2 672.5,229.4 670.6,230.0 668.8,227.5" fill="#ebf5fc" stroke="#c5dcea" stroke-width="0.35"/>
<polygon points="652.4,249.0 654.4,249.0 655.0,254.0 653.6,259.0 651.6,258.0 651.6,253.0" fill="#b7dbf0" stroke="#8fbfdc" stroke-width="0.35"/>
<polygon points="341.9,174.4 348.1,172.5 351.2,170.0 356.9,169.4 358.8,168.1 360.6,160.0 366.9,158.8 371.2,157.5 371.9,153.8 371.9,150.6 375.0,149.4 377.5,150.6 378.1,154.4 376.9,156.2 377.5,156.2 384.4,158.1 390.0,156.2 396.2,156.2 396.9,158.5 398.1,153.1 398.8,149.4 401.9,148.1 401.9,143.1 411.2,142.5 411.9,146.9 412.5,147.8 413.1,151.2 411.2,151.9 411.9,156.2 405.0,157.5 405.0,163.1 410.0,164.8 417.5,164.4 415.2,166.7 423.1,167.8 428.8,169.5 434.4,170.6 441.1,172.3 441.7,176.2 438.9,178.5 434.4,180.2 433.2,181.9 434.4,184.1 436.6,183.6 437.8,185.2 434.4,186.9 432.1,187.5 428.8,185.8 427.1,183.0 422.6,181.9 419.2,186.4 417.5,186.9 416.2,190.6 415.1,195.4 412.5,198.0 407.7,199.8 408.1,201.9 406.4,203.7 407.7,206.8 407.2,209.4 405.5,212.0 403.3,211.1 402.0,208.5 400.2,205.9 398.5,203.2 397.6,200.2 397.2,198.9 396.3,195.4 394.1,192.8 391.5,190.1 388.9,187.5 386.2,185.3 385.4,183.1 381.9,182.2 377.5,181.8 374.0,180.5 368.8,179.6 365.7,181.4 365.7,184.0 367.0,185.8 365.7,188.4 366.6,190.6 362.5,190.6 357.5,190.0 352.5,191.2 348.8,190.6 348.8,183.8 345.0,178.8" fill="#4573b9" stroke="#7a9fd4" stroke-width="0.35"/>
<polygon points="364.5,135.0 366.5,133.0 371.0,130.0 376.0,126.0 380.0,122.0 383.0,119.0 387.0,116.0 392.0,113.0 398.0,111.0 402.0,110.0 408.0,110.0 412.0,111.5 413.0,113.5 410.0,115.0 406.0,113.5 402.0,114.0 399.0,116.5 395.0,115.5 393.0,115.0 390.0,117.5 387.0,120.0 384.0,124.0 381.0,128.0 378.5,131.0 379.0,137.0 379.5,141.0 378.0,144.0 373.0,144.0 368.0,143.0 365.0,140.0" fill="#4573b9" stroke="#7a9fd4" stroke-width="0.35"/>
<polygon points="378.5,131.0 381.0,128.0 384.0,124.0 387.0,120.0 390.0,117.5 393.0,115.0 395.0,115.5 399.0,116.5 400.0,120.0 401.0,122.5 398.0,124.0 396.0,127.0 393.0,130.0 390.5,133.5 389.5,137.0 390.5,140.0 392.0,142.0 394.0,145.0 393.0,149.0 390.0,151.5 387.0,153.0 384.0,153.5 381.0,152.0 379.5,148.0 379.0,145.0 379.5,141.0 379.0,137.0" fill="#1a3768" stroke="#3a5788" stroke-width="0.35"/>
<polygon points="399.0,116.5 402.0,114.0 406.0,113.5 410.0,115.0 410.5,119.0 412.0,123.0 414.0,127.0 416.0,132.0 415.5,136.0 412.0,139.0 406.0,140.0 401.0,139.5 398.0,137.0 399.0,133.0 401.0,129.0 404.0,126.0 403.5,124.0 401.0,122.5 400.0,120.0" fill="#4573b9" stroke="#7a9fd4" stroke-width="0.35"/>
<polygon points="376.2,89.5 385.0,87.5 395.0,87.0 402.5,88.0 400.0,92.0 392.5,92.5 386.2,95.0 380.0,93.8" fill="#4573b9" stroke="#7a9fd4" stroke-width="0.35"/>
<polygon points="308.8,123.8 315.0,122.0 321.2,123.0 327.0,122.5 326.2,127.0 321.2,129.5 315.0,130.0 310.5,128.0" fill="#4573b9" stroke="#7a9fd4" stroke-width="0.35"/>
<polygon points="396.2,156.2 401.9,156.2 402.5,158.1 396.9,158.5" fill="#e8ceb1" stroke="#cdb497" stroke-width="0.35"/>
<polygon points="398.8,149.4 405.0,148.1 412.5,147.8 413.1,151.2 405.0,151.9 399.4,152.8" fill="#b7dbf0" stroke="#8fbfdc" stroke-width="0.35"/>
<polygon points="384.4,158.1 390.0,156.2 396.2,156.2 396.9,158.5 402.5,158.1 405.0,163.1 406.2,167.5 403.8,170.0 397.5,171.2 391.2,170.0 386.2,168.1 385.0,163.1" fill="#b7dbf0" stroke="#8fbfdc" stroke-width="0.35"/>
<polygon points="401.8,169.5 406.2,167.2 415.2,166.7 423.1,167.8 428.8,169.5 434.4,170.6 441.1,172.3 441.7,176.2 438.9,178.5 434.4,180.2 433.2,181.9 434.4,184.1 436.6,183.6 437.8,185.2 434.4,186.9 432.1,187.5 428.8,185.8 427.1,183.0 422.6,181.9 419.2,186.4 416.9,184.1 415.8,179.6 414.7,176.8 408.5,177.4 402.9,176.2 400.6,172.9" fill="#b7dbf0" stroke="#8fbfdc" stroke-width="0.35"/>
<polygon points="365.7,181.4 368.8,179.6 374.0,180.5 377.5,181.8 381.9,182.2 385.4,183.1 386.2,185.3 383.6,186.6 381.0,187.1 379.7,188.8 381.9,189.7 384.1,191.9 386.2,194.1 388.9,196.7 391.9,199.3 394.6,201.1 393.7,202.8 391.1,201.9 389.8,203.7 390.6,205.9 389.3,207.6 388.0,206.3 387.6,203.7 385.8,201.1 383.2,198.9 380.6,197.1 378.8,194.9 376.6,192.8 374.9,191.0 372.2,189.7 368.8,189.7 366.6,190.6 365.7,188.4 367.0,185.8 365.7,184.0" fill="#b7dbf0" stroke="#8fbfdc" stroke-width="0.35"/>
<polygon points="380.6,208.5 384.5,208.1 387.1,208.5 386.2,211.1 383.2,211.6 381.0,210.2" fill="#b7dbf0" stroke="#8fbfdc" stroke-width="0.35"/>
<polygon points="370.5,198.9 373.1,198.4 373.6,203.2 371.8,204.6 370.5,202.8" fill="#b7dbf0" stroke="#8fbfdc" stroke-width="0.35"/>
<polygon points="371.4,193.2 372.9,192.9 372.9,197.1 371.6,197.1" fill="#4573b9" stroke="#7a9fd4" stroke-width="0.35"/>
<polygon points="397.6,200.2 401.1,201.1 404.6,200.2 407.7,199.8 408.1,201.9 406.4,203.7 407.7,206.8 407.2,209.4 405.5,212.0 403.3,211.1 402.0,208.5 400.2,205.9 398.5,203.2" fill="#b7dbf0" stroke="#8fbfdc" stroke-width="0.35"/>
<polygon points="402.9,213.8 407.2,213.3 407.7,214.2 403.3,214.6" fill="#b7dbf0" stroke="#8fbfdc" stroke-width="0.35"/>
<polygon points="330.0,191.9 337.5,190.0 347.5,191.0 352.5,191.9 356.9,191.2 355.0,196.2 351.2,201.2 350.0,206.2 346.2,210.0 338.8,212.5 335.0,215.0 332.5,214.4 329.6,210.6 329.6,195.6" fill="#4573b9" stroke="#7a9fd4" stroke-width="0.35"/>
<polygon points="329.6,195.6 332.8,194.7 334.7,199.4 334.1,205.9 334.7,210.6 329.6,210.6" fill="#1a3768" stroke="#3a5788" stroke-width="0.35"/>
<polygon points="342.0,146.0 345.5,144.5 349.5,145.5 348.5,148.5 347.0,151.0 349.5,152.5 351.5,156.5 354.0,160.0 355.5,163.5 355.0,165.5 352.0,167.0 348.0,168.5 343.0,169.5 339.5,170.5 342.0,167.5 340.0,166.0 343.0,164.0 342.0,161.0 344.0,158.5 342.0,155.5 343.0,153.0 341.0,150.0" fill="#4573b9" stroke="#7a9fd4" stroke-width="0.35"/>
<polygon points="331.5,158.5 335.5,156.0 339.0,155.5 340.0,158.0 338.5,161.5 335.0,164.0 331.5,164.5 330.0,162.0" fill="#4573b9" stroke="#7a9fd4" stroke-width="0.35"/>
<polygon points="593.8,312.5 597.5,311.9 601.2,315.6 606.2,320.0 611.2,325.0 615.0,328.8 618.8,333.8 621.2,337.5 623.8,343.8 624.4,348.8 623.1,352.5 620.0,351.2 615.0,345.0 610.0,338.8 605.0,332.5 600.0,325.0 596.2,318.8 593.8,315.0" fill="#e8ceb1" stroke="#cdb497" stroke-width="0.35"/>
<polygon points="625.0,347.5 632.5,348.4 640.0,350.3 647.5,351.2 651.2,353.1 643.8,353.1 636.2,352.2 628.8,350.3" fill="#e8ceb1" stroke="#cdb497" stroke-width="0.35"/>
<polygon points="631.2,324.4 633.1,326.9 635.6,325.6 638.8,323.8 641.9,321.9 645.0,320.0 646.2,316.9 649.4,316.2 651.2,320.0 652.5,324.4 654.4,327.5 652.5,331.2 651.2,335.0 652.5,338.8 648.8,341.2 645.0,341.9 641.2,341.2 637.5,339.4 633.8,337.5 632.5,332.5 631.2,328.1" fill="#e8ceb1" stroke="#cdb497" stroke-width="0.35"/>
<polygon points="631.2,324.4 635.0,321.9 638.8,319.4 640.6,315.6 642.5,312.5 646.2,311.2 648.8,307.5 651.9,308.1 655.0,312.5 651.9,314.4 649.4,316.2 646.2,316.9 645.0,320.0 641.9,321.9 638.8,323.8 635.6,325.6 633.1,326.9" fill="#c8343b" stroke="#e07a7e" stroke-width="0.35"/>
<polygon points="657.5,328.1 661.2,326.2 666.2,325.6 670.0,325.0 671.2,326.2 667.5,328.1 663.8,328.8 661.2,331.2 661.9,335.0 663.8,338.1 665.0,341.9 663.1,342.5 660.6,338.8 658.8,341.2 658.1,337.5 656.9,332.5" fill="#e8ceb1" stroke="#cdb497" stroke-width="0.35"/>
<polygon points="676.9,323.1 679.4,323.1 680.0,328.8 678.1,331.2 676.9,327.5" fill="#e8ceb1" stroke="#cdb497" stroke-width="0.35"/>
<polygon points="647.5,355.0 653.8,355.5 660.0,356.2 653.8,357.5" fill="#e8ceb1" stroke="#cdb497" stroke-width="0.35"/>
<polygon points="662.5,358.8 671.2,355.0 672.5,356.2 663.8,360.5" fill="#e8ceb1" stroke="#cdb497" stroke-width="0.35"/>
<polygon points="685.0,332.0 690.0,330.0 695.0,334.0 700.0,336.0 706.0,335.0 711.4,338.0 711.2,353.8 706.2,351.2 700.0,347.5 696.2,342.5 690.0,341.2 686.2,336.2 693.0,339.0 688.0,336.0" fill="#e8ceb1" stroke="#cdb497" stroke-width="0.35"/>
<polygon points="711.4,338.0 718.0,340.0 724.0,343.0 720.0,341.2 727.5,345.0 730.0,351.2 736.2,358.8 735.0,362.5 728.8,360.0 722.5,355.0 716.2,355.0 711.2,353.8 711.2,338.8" fill="#d97c3a" stroke="#e8a470" stroke-width="0.35"/>
<polygon points="730.0,346.0 737.0,344.0 742.0,341.0 743.0,343.0 738.0,347.0 731.0,348.0" fill="#d97c3a" stroke="#e8a470" stroke-width="0.35"/>
<polygon points="737.0,337.6 739.0,337.0 742.0,342.0 740.0,342.4" fill="#d97c3a" stroke="#e8a470" stroke-width="0.35"/>
<polygon points="746.2,346.2 748.0,345.5 750.0,351.2 748.5,352.0" fill="#d97c3a" stroke="#e8a470" stroke-width="0.35"/>
<polygon points="655.0,270.0 659.0,271.0 660.0,277.0 662.0,282.0 660.0,283.0 656.0,280.0 654.4,275.0" fill="#ebf5fc" stroke="#c5dcea" stroke-width="0.35"/>
<polygon points="661.0,288.0 669.0,290.0 670.0,295.0 664.0,298.0 662.0,293.0" fill="#ebf5fc" stroke="#c5dcea" stroke-width="0.35"/>
<polygon points="661.9,303.8 666.2,301.9 670.0,300.0 672.5,302.5 673.1,307.5 671.2,310.0 668.1,308.1 665.0,307.5 662.5,306.2" fill="#ebf5fc" stroke="#c5dcea" stroke-width="0.35"/>
<polygon points="650.0,302.0 655.0,294.0 655.6,295.6 651.6,302.4" fill="#ebf5fc" stroke="#c5dcea" stroke-width="0.35"/>
<polygon points="635.0,401.2 645.0,395.0 653.8,392.5 660.0,386.2 661.2,381.2 667.5,378.8 672.5,373.8 677.5,375.0 682.5,370.0 686.2,366.2 695.0,367.5 696.2,371.2 693.8,376.2 700.0,380.0 706.2,383.8 710.0,377.5 711.2,367.5 713.8,363.8 716.2,371.2 720.0,377.5 722.5,386.2 726.2,395.0 730.0,402.5 732.0,410.0 731.2,418.8 727.5,427.5 722.5,435.0 717.5,441.2 712.5,447.5 706.2,451.2 700.0,452.5 695.0,448.8 688.8,446.2 685.0,440.0 682.5,435.0 680.0,438.8 676.2,436.2 672.5,433.8 663.8,433.8 655.0,435.0 647.5,437.5 640.0,440.0 632.5,438.8 631.2,432.5 635.0,425.0 633.8,415.0 635.0,407.5" fill="#4573b9" stroke="#7a9fd4" stroke-width="0.35"/>
<polygon points="692.5,460.0 700.0,459.5 698.8,465.0 695.0,467.5 692.0,463.8" fill="#4573b9" stroke="#7a9fd4" stroke-width="0.35"/>
<polygon points="770.0,440.0 772.5,441.2 773.8,447.5 778.8,448.8 776.2,452.5 772.5,455.0 767.5,458.8 763.8,457.5 767.5,452.5 769.5,446.2" fill="#4573b9" stroke="#7a9fd4" stroke-width="0.35"/>
<polygon points="760.0,460.0 763.8,462.5 757.5,466.2 750.0,470.0 743.8,472.0 740.0,471.5 747.5,466.2 755.0,462.5" fill="#4573b9" stroke="#7a9fd4" stroke-width="0.35"/>
<polyline points="461.2,180.0 460.0,172.5 467.5,166.2 482.5,165.0 486.2,157.5 500.0,153.8 510.0,157.5 520.0,163.8 530.0,161.2 542.5,170.0 547.5,175.0 543.8,182.5 540.0,187.5 536.2,193.8 536.2,197.5" fill="none" stroke="#cdb294" stroke-width="0.35"/>
<polyline points="471.2,182.5 480.0,186.2" fill="none" stroke="#cdb294" stroke-width="0.35"/>
<polyline points="517.5,195.0 530.0,193.8 536.2,197.5 525.0,201.2 520.0,200.0" fill="none" stroke="#cdb294" stroke-width="0.35"/>
<polyline points="516.2,202.5 525.0,202.0 530.0,206.2 520.0,207.5" fill="none" stroke="#cdb294" stroke-width="0.35"/>
<polyline points="559.1,180.0 552.5,191.2 545.0,195.0 540.3,200.6 535.6,206.2 534.7,214.7 538.4,217.5 545.0,226.9 548.8,233.4" fill="none" stroke="#cdb294" stroke-width="0.35"/>
<polyline points="577.8,239.6 582.5,236.2 587.2,243.8" fill="none" stroke="#cdb294" stroke-width="0.35"/>
<polyline points="603.4,260.3 608.1,257.5 613.8,256.6 619.4,258.4 623.5,266.5" fill="none" stroke="#cdb294" stroke-width="0.35"/>
<polyline points="603.4,265.9 609.1,270.6 615.6,272.5 622.2,274.4" fill="none" stroke="#cdb294" stroke-width="0.35"/>
<polyline points="608.1,287.5 611.9,284.7 616.6,282.8 623.1,280.0 625.9,280.0" fill="none" stroke="#cdb294" stroke-width="0.35"/>
<polyline points="623.8,178.8 617.5,167.5 616.2,161.2 627.5,160.0 637.5,167.5 650.0,173.8 657.5,177.5 658.8,187.5 653.8,195.0 658.0,200.0" fill="none" stroke="#cdb294" stroke-width="0.35"/>
<polyline points="648.8,205.0 651.2,201.9 655.6,198.8" fill="none" stroke="#cdb294" stroke-width="0.35"/>
<polyline points="650.0,208.1 653.8,208.1" fill="none" stroke="#cdb294" stroke-width="0.35"/>
<polyline points="418.8,155.6 421.9,157.5 422.5,162.5" fill="none" stroke="#cdb294" stroke-width="0.35"/>
<polyline points="447.9,198.2 451.2,198.8 455.8,202.1 456.3,205.5" fill="none" stroke="#cdb294" stroke-width="0.35"/>
<polyline points="451.2,198.8 454.6,198.2 460.2,198.2 462.5,202.1 460.2,205.5" fill="none" stroke="#cdb294" stroke-width="0.35"/>
<polyline points="334.7,250.9 361.9,267.8 360.0,274.4 352.5,278.1 348.8,281.9 341.2,283.8 335.6,287.5" fill="none" stroke="#cdb294" stroke-width="0.35"/>
<polyline points="361.9,267.8 359.1,285.6" fill="none" stroke="#cdb294" stroke-width="0.35"/>
<polyline points="388.4,306.6 395.0,315.0 402.5,316.9 410.0,314.1 419.4,307.5" fill="none" stroke="#cdb294" stroke-width="0.35"/>
<polyline points="389.4,321.6 395.0,326.2 392.2,333.8 387.5,341.2 380.9,348.8" fill="none" stroke="#cdb294" stroke-width="0.35"/>
<polyline points="373.4,333.8 380.0,331.9 387.5,333.8 392.2,333.8" fill="none" stroke="#cdb294" stroke-width="0.35"/>
<polyline points="336.9,295.3 339.7,289.7 348.1,285.9 354.7,288.8 357.5,293.4" fill="none" stroke="#cdb294" stroke-width="0.35"/>
<polyline points="146.2,323.8 152.5,327.5 160.0,328.8 170.0,327.5 173.8,335.0 171.2,342.5 166.2,345.0" fill="none" stroke="#86a8d8" stroke-width="0.35"/>
<polyline points="181.2,326.2 173.8,335.0" fill="none" stroke="#86a8d8" stroke-width="0.35"/>
<polyline points="171.2,342.5 162.5,347.5 160.0,355.0 166.2,361.2 171.2,365.0" fill="none" stroke="#86a8d8" stroke-width="0.35"/>
<polyline points="146.2,340.0 152.5,342.5 157.5,350.0 160.0,355.0" fill="none" stroke="#86a8d8" stroke-width="0.35"/>
<polyline points="202.5,321.2 206.2,323.8 216.2,315.0" fill="none" stroke="#86a8d8" stroke-width="0.35"/>
<polyline points="210.0,313.8 211.2,321.2 206.2,323.8" fill="none" stroke="#86a8d8" stroke-width="0.35"/>
<polyline points="176.2,390.0 173.8,402.5 178.8,407.5 178.8,417.5 177.5,435.0 178.8,450.0 181.2,465.0 185.0,477.5 188.8,487.5 192.5,492.5" fill="none" stroke="#86a8d8" stroke-width="0.35"/>
<polyline points="215.0,413.8 218.8,422.5 215.0,428.8 220.0,432.5" fill="none" stroke="#86a8d8" stroke-width="0.35"/>
<polyline points="62.5,225.5 75.0,228.8" fill="none" stroke="#d3e3f0" stroke-width="0.35"/>
</g>
<g>
<text x="129.5" y="150.51" font-size="6.6" fill="#fff" font-weight="normal" text-anchor="middle" textLength="20.5" lengthAdjust="spacingAndGlyphs">Canada</text>
<circle cx="125.5" cy="155.5" r="3.65" fill="#1f9a48" stroke="#fff" stroke-opacity="0.55" stroke-width="0.51"/><circle cx="124.73" cy="156.03" r="0.95" fill="none" stroke="#fff" stroke-width="0.47"/><circle cx="126.27" cy="156.03" r="0.95" fill="none" stroke="#fff" stroke-width="0.47"/><rect x="125.03" y="153.72" width="0.95" height="0.83" fill="#fff"/>
<circle cx="133.8" cy="155.5" r="3.65" fill="#1f9a48" stroke="#fff" stroke-opacity="0.55" stroke-width="0.51"/><path d="M132.2 154.67h1.07v2.61h-1.07zM134.33 154.67h1.07v2.61h-1.07zM133.44 155.62h0.71v1.66h-0.71z" fill="#fff"/><circle cx="132.73" cy="154.08" r="0.5" fill="#fff"/><circle cx="134.87" cy="154.08" r="0.5" fill="#fff"/>
<text x="111.2" y="204.25" font-size="5" fill="#1d1d1d" font-weight="bold" text-anchor="middle" textLength="53.5" lengthAdjust="spacingAndGlyphs">United States of America</text>
<circle cx="107.5" cy="209.4" r="3.53" fill="#1f9a48" stroke="#fff" stroke-opacity="0.55" stroke-width="0.5"/><circle cx="106.75" cy="209.92" r="0.92" fill="none" stroke="#fff" stroke-width="0.46"/><circle cx="108.25" cy="209.92" r="0.92" fill="none" stroke="#fff" stroke-width="0.46"/><rect x="107.04" y="207.68" width="0.92" height="0.8" fill="#fff"/>
<circle cx="115.2" cy="209.4" r="3.53" fill="#1f9a48" stroke="#fff" stroke-opacity="0.55" stroke-width="0.5"/><path d="M113.65 208.6h1.03v2.53h-1.03zM115.72 208.6h1.03v2.53h-1.03zM114.86 209.51h0.69v1.61h-0.69z" fill="#fff"/><circle cx="114.17" cy="208.02" r="0.48" fill="#fff"/><circle cx="116.23" cy="208.02" r="0.48" fill="#fff"/>
<text x="91.9" y="252.35" font-size="5" fill="#fff" font-weight="normal" text-anchor="middle" textLength="16" lengthAdjust="spacingAndGlyphs">Mexico</text>
<circle cx="91.5" cy="256.9" r="3.53" fill="#1f9a48" stroke="#fff" stroke-opacity="0.55" stroke-width="0.5"/><circle cx="90.75" cy="257.42" r="0.92" fill="none" stroke="#fff" stroke-width="0.46"/><circle cx="92.25" cy="257.42" r="0.92" fill="none" stroke="#fff" stroke-width="0.46"/><rect x="91.04" y="255.18" width="0.92" height="0.8" fill="#fff"/>
<text x="150.6" y="261.08" font-size="3.1" fill="#1d1d1d" font-weight="bold" text-anchor="middle">Cuba</text>
<text x="161.2" y="269.88" font-size="3.1" fill="#1d1d1d" font-weight="bold" text-anchor="middle">Haiti</text>
<text x="128.1" y="276.08" font-size="3.1" fill="#1d1d1d" font-weight="bold" text-anchor="middle">Belize</text>
<text x="163.1" y="250.09" font-size="3.1" fill="#1d1d1d" font-weight="bold" text-anchor="middle">Bahamas</text>
<text x="173.8" y="267.28" font-size="3.1" fill="#1d1d1d" font-weight="bold" text-anchor="start">Dominican Republic</text>
<text x="148.1" y="271.69" font-size="3.1" fill="#1d1d1d" font-weight="bold" text-anchor="end">Jamaica</text>
<text x="117.5" y="283.58" font-size="3.1" fill="#1d1d1d" font-weight="bold" text-anchor="end">Guatemala</text>
<text x="117.9" y="288.19" font-size="3.1" fill="#1d1d1d" font-weight="bold" text-anchor="end">El Salvador</text>
<text x="130.0" y="282.98" font-size="3.1" fill="#fff" font-weight="bold" text-anchor="middle">Honduras</text>
<text x="128.1" y="290.69" font-size="3.1" fill="#1d1d1d" font-weight="bold" text-anchor="start">Nicaragua</text>
<text x="131.2" y="298.58" font-size="3.1" fill="#1d1d1d" font-weight="bold" text-anchor="end">Costa Rica</text>
<text x="138.1" y="300.69" font-size="3.1" fill="#1d1d1d" font-weight="bold" text-anchor="start">Panama</text>
<text x="185.6" y="278.58" font-size="3.1" fill="#1d1d1d" font-weight="bold" text-anchor="end">St. Kitts and Nevis</text>
<text x="186.2" y="284.88" font-size="3.1" fill="#1d1d1d" font-weight="bold" text-anchor="end">St. Vincent and Grenadines</text>
<text x="187.1" y="290.88" font-size="3.1" fill="#1d1d1d" font-weight="bold" text-anchor="end">Grenada</text>
<text x="215.0" y="274.88" font-size="3.1" fill="#1d1d1d" font-weight="bold" text-anchor="middle">Antigua and Barbuda</text>
<text x="205.0" y="279.88" font-size="3.1" fill="#1d1d1d" font-weight="bold" text-anchor="middle">Dominica</text>
<text x="203.8" y="284.88" font-size="3.1" fill="#1d1d1d" font-weight="bold" text-anchor="middle">St. Lucia</text>
<text x="206.2" y="290.28" font-size="3.1" fill="#1d1d1d" font-weight="bold" text-anchor="middle">Barbados</text>
<text x="210.5" y="297.88" font-size="3.1" fill="#1d1d1d" font-weight="bold" text-anchor="middle">Trinidad and Tobago</text>
<circle cx="192.5" cy="274.4" r="1.6" fill="#a3141e" stroke="#c9b79d" stroke-width="0.2"/>
<circle cx="188.1" cy="277.2" r="1.6" fill="#a3141e" stroke="#c9b79d" stroke-width="0.2"/>
<circle cx="195.0" cy="279.0" r="1.6" fill="#a3141e" stroke="#c9b79d" stroke-width="0.2"/>
<circle cx="189.0" cy="283.5" r="1.6" fill="#a3141e" stroke="#c9b79d" stroke-width="0.2"/>
<circle cx="189.8" cy="289.8" r="1.6" fill="#a3141e" stroke="#c9b79d" stroke-width="0.2"/>
<circle cx="196.0" cy="289.8" r="1.6" fill="#a3141e" stroke="#c9b79d" stroke-width="0.2"/>
<circle cx="195.0" cy="283.8" r="1.6" fill="#a3141e" stroke="#c9b79d" stroke-width="0.2"/>
<circle cx="195.6" cy="283.8" r="1.6" fill="#b7dbf0" stroke="#c9b79d" stroke-width="0.2"/>
<path d="M195.6 282.2A1.6 1.6 0 0 1 195.6 285.40000000000003Z" fill="#c8343b"/>
<circle cx="191.6" cy="296.5" r="1.8" fill="#e8ceb1" stroke="#c9b79d" stroke-width="0.2"/>
<text x="180.0" y="305.39" font-size="3.4" fill="#1d1d1d" font-weight="bold" text-anchor="middle">Venezuela</text>
<text x="161.2" y="317.06" font-size="3.6" fill="#fff" font-weight="normal" text-anchor="middle">Colombia</text>
<circle cx="157.5" cy="322.0" r="3.31" fill="#1f9a48" stroke="#fff" stroke-opacity="0.55" stroke-width="0.46"/><circle cx="156.8" cy="322.48" r="0.86" fill="none" stroke="#fff" stroke-width="0.43"/><circle cx="158.2" cy="322.48" r="0.86" fill="none" stroke="#fff" stroke-width="0.43"/><rect x="157.07" y="320.39" width="0.86" height="0.75" fill="#fff"/>
<circle cx="165.0" cy="322.0" r="3.31" fill="#1f9a48" stroke="#fff" stroke-opacity="0.55" stroke-width="0.46"/><path d="M163.55 321.25h0.97v2.36h-0.97zM165.48 321.25h0.97v2.36h-0.97zM164.68 322.11h0.64v1.5h-0.64z" fill="#fff"/><circle cx="164.03" cy="320.71" r="0.45" fill="#fff"/><circle cx="165.97" cy="320.71" r="0.45" fill="#fff"/>
<text x="147.0" y="333.08" font-size="3.1" fill="#fff" font-weight="normal" text-anchor="middle">Ecuador</text>
<circle cx="147.5" cy="337.0" r="3.08" fill="#1f9a48" stroke="#fff" stroke-opacity="0.55" stroke-width="0.43"/><circle cx="146.85" cy="337.45" r="0.8" fill="none" stroke="#fff" stroke-width="0.4"/><circle cx="148.15" cy="337.45" r="0.8" fill="none" stroke="#fff" stroke-width="0.4"/><rect x="147.1" y="335.5" width="0.8" height="0.7" fill="#fff"/>
<text x="152.5" y="357.39" font-size="3.4" fill="#fff" font-weight="normal" text-anchor="middle">Peru</text>
<text x="219.0" y="361.95" font-size="7" fill="#fff" font-weight="normal" text-anchor="middle" textLength="15.5" lengthAdjust="spacingAndGlyphs">Brazil</text>
<circle cx="215.0" cy="366.2" r="3.53" fill="#1f9a48" stroke="#fff" stroke-opacity="0.55" stroke-width="0.5"/><circle cx="214.25" cy="366.72" r="0.92" fill="none" stroke="#fff" stroke-width="0.46"/><circle cx="215.75" cy="366.72" r="0.92" fill="none" stroke="#fff" stroke-width="0.46"/><rect x="214.54" y="364.48" width="0.92" height="0.8" fill="#fff"/>
<circle cx="222.5" cy="366.2" r="3.53" fill="#1f9a48" stroke="#fff" stroke-opacity="0.55" stroke-width="0.5"/><path d="M220.95 365.4h1.03v2.53h-1.03zM223.02 365.4h1.03v2.53h-1.03zM222.16 366.31h0.69v1.61h-0.69z" fill="#fff"/><circle cx="221.47" cy="364.82" r="0.48" fill="#fff"/><circle cx="223.53" cy="364.82" r="0.48" fill="#fff"/>
<text x="185.5" y="384.33" font-size="3.8" fill="#fff" font-weight="bold" text-anchor="middle">Bolivia</text>
<text x="195.0" y="311.15" font-size="3.3" fill="#fff" font-weight="normal" text-anchor="middle">Guyana</text>
<text x="204.2" y="316.95" font-size="3.3" fill="#fff" font-weight="normal" text-anchor="middle">Sur.</text>
<text x="200.5" y="402.85" font-size="3" fill="#1d1d1d" font-weight="bold" text-anchor="middle">Paraguay</text>
<circle cx="207.0" cy="406.2" r="3.08" fill="#8d1a21" stroke="#fff" stroke-opacity="0.55" stroke-width="0.43"/><path d="M205.6 405.8l0.8 0 1.5 -0.9v2.6l-1.5 -0.9h-0.8z" fill="#fff"/>
<text x="166.2" y="404.19" font-size="3.4" fill="#1d1d1d" font-weight="bold" text-anchor="middle">Chile</text>
<circle cx="166.8" cy="408.8" r="3.08" fill="#1f9a48" stroke="#fff" stroke-opacity="0.55" stroke-width="0.43"/><circle cx="166.15" cy="409.25" r="0.8" fill="none" stroke="#fff" stroke-width="0.4"/><circle cx="167.45" cy="409.25" r="0.8" fill="none" stroke="#fff" stroke-width="0.4"/><rect x="166.4" y="407.3" width="0.8" height="0.7" fill="#fff"/>
<text x="215.0" y="431.12" font-size="3.2" fill="#fff" font-weight="normal" text-anchor="middle">Uruguay</text>
<circle cx="211.2" cy="436.2" r="3.08" fill="#1f9a48" stroke="#fff" stroke-opacity="0.55" stroke-width="0.43"/><circle cx="210.55" cy="436.65" r="0.8" fill="none" stroke="#fff" stroke-width="0.4"/><circle cx="211.85" cy="436.65" r="0.8" fill="none" stroke="#fff" stroke-width="0.4"/><rect x="210.8" y="434.7" width="0.8" height="0.7" fill="#fff"/>
<circle cx="218.8" cy="436.2" r="3.08" fill="#1f9a48" stroke="#fff" stroke-opacity="0.55" stroke-width="0.43"/><path d="M217.45 435.5h0.9v2.2h-0.9zM219.25 435.5h0.9v2.2h-0.9zM218.5 436.3h0.6v1.4h-0.6z" fill="#fff"/><circle cx="217.9" cy="435.0" r="0.42" fill="#fff"/><circle cx="219.7" cy="435.0" r="0.42" fill="#fff"/>
<text x="194.2" y="443.41" font-size="4.6" fill="#1d1d1d" font-weight="bold" text-anchor="middle" textLength="21" lengthAdjust="spacingAndGlyphs">Argentina</text>
<circle cx="190.8" cy="448.0" r="3.31" fill="#1f9a48" stroke="#fff" stroke-opacity="0.55" stroke-width="0.46"/><circle cx="190.1" cy="448.48" r="0.86" fill="none" stroke="#fff" stroke-width="0.43"/><circle cx="191.5" cy="448.48" r="0.86" fill="none" stroke="#fff" stroke-width="0.43"/><rect x="190.37" y="446.39" width="0.86" height="0.75" fill="#fff"/>
<circle cx="198.8" cy="448.0" r="3.31" fill="#1f9a48" stroke="#fff" stroke-opacity="0.55" stroke-width="0.46"/><path d="M197.35 447.25h0.97v2.36h-0.97zM199.28 447.25h0.97v2.36h-0.97zM198.48 448.11h0.64v1.5h-0.64z" fill="#fff"/><circle cx="197.83" cy="446.71" r="0.45" fill="#fff"/><circle cx="199.77" cy="446.71" r="0.45" fill="#fff"/>
<text x="285.5" y="101.22" font-size="3.5" fill="#1d1d1d" font-weight="normal" text-anchor="middle">Greenland</text>
<text x="317.5" y="126.55" font-size="3" fill="#fff" font-weight="normal" text-anchor="middle">Iceland</text>
<circle cx="314.5" cy="132.5" r="3.31" fill="#1f9a48" stroke="#fff" stroke-opacity="0.55" stroke-width="0.46"/><circle cx="313.8" cy="132.98" r="0.86" fill="none" stroke="#fff" stroke-width="0.43"/><circle cx="315.2" cy="132.98" r="0.86" fill="none" stroke="#fff" stroke-width="0.43"/><rect x="314.07" y="130.89" width="0.86" height="0.75" fill="#fff"/>
<circle cx="322.0" cy="132.5" r="3.31" fill="#1f9a48" stroke="#fff" stroke-opacity="0.55" stroke-width="0.46"/><path d="M320.55 131.75h0.97v2.36h-0.97zM322.48 131.75h0.97v2.36h-0.97zM321.68 132.61h0.64v1.5h-0.64z" fill="#fff"/><circle cx="321.03" cy="131.21" r="0.45" fill="#fff"/><circle cx="322.97" cy="131.21" r="0.45" fill="#fff"/>
<text x="371.5" y="136.09" font-size="3.1" fill="#fff" font-weight="normal" text-anchor="middle">Norway</text>
<circle cx="368.0" cy="140.5" r="3.53" fill="#1f9a48" stroke="#fff" stroke-opacity="0.55" stroke-width="0.5"/><circle cx="367.25" cy="141.02" r="0.92" fill="none" stroke="#fff" stroke-width="0.46"/><circle cx="368.75" cy="141.02" r="0.92" fill="none" stroke="#fff" stroke-width="0.46"/><rect x="367.54" y="138.78" width="0.92" height="0.8" fill="#fff"/>
<circle cx="375.5" cy="140.5" r="3.53" fill="#1f9a48" stroke="#fff" stroke-opacity="0.55" stroke-width="0.5"/><path d="M373.95 139.7h1.03v2.53h-1.03zM376.02 139.7h1.03v2.53h-1.03zM375.16 140.61h0.69v1.61h-0.69z" fill="#fff"/><circle cx="374.47" cy="139.12" r="0.48" fill="#fff"/><circle cx="376.53" cy="139.12" r="0.48" fill="#fff"/>
<text x="386.0" y="141.89" font-size="3.1" fill="#fff" font-weight="normal" text-anchor="middle">Sweden</text>
<circle cx="382.5" cy="145.6" r="3.53" fill="#1f9a48" stroke="#fff" stroke-opacity="0.55" stroke-width="0.5"/><circle cx="381.75" cy="146.12" r="0.92" fill="none" stroke="#fff" stroke-width="0.46"/><circle cx="383.25" cy="146.12" r="0.92" fill="none" stroke="#fff" stroke-width="0.46"/><rect x="382.04" y="143.88" width="0.92" height="0.8" fill="#fff"/>
<circle cx="390.0" cy="145.8" r="3.53" fill="#1f9a48" stroke="#fff" stroke-opacity="0.55" stroke-width="0.5"/><path d="M388.45 145.0h1.03v2.53h-1.03zM390.52 145.0h1.03v2.53h-1.03zM389.66 145.91h0.69v1.61h-0.69z" fill="#fff"/><circle cx="388.97" cy="144.42" r="0.48" fill="#fff"/><circle cx="391.03" cy="144.42" r="0.48" fill="#fff"/>
<text x="406.5" y="131.59" font-size="3.1" fill="#fff" font-weight="normal" text-anchor="middle">Finland</text>
<circle cx="402.7" cy="135.8" r="3.53" fill="#1f9a48" stroke="#fff" stroke-opacity="0.55" stroke-width="0.5"/><circle cx="401.95" cy="136.32" r="0.92" fill="none" stroke="#fff" stroke-width="0.46"/><circle cx="403.45" cy="136.32" r="0.92" fill="none" stroke="#fff" stroke-width="0.46"/><rect x="402.24" y="134.08" width="0.92" height="0.8" fill="#fff"/>
<circle cx="410.7" cy="135.8" r="3.53" fill="#1f9a48" stroke="#fff" stroke-opacity="0.55" stroke-width="0.5"/><path d="M409.15 135.0h1.03v2.53h-1.03zM411.22 135.0h1.03v2.53h-1.03zM410.36 135.91h0.69v1.61h-0.69z" fill="#fff"/><circle cx="409.67" cy="134.42" r="0.48" fill="#fff"/><circle cx="411.73" cy="134.42" r="0.48" fill="#fff"/>
<circle cx="405.6" cy="146.2" r="1.71" fill="#1f9a48" stroke="#fff" stroke-opacity="0.55" stroke-width="0.24"/><circle cx="405.24" cy="146.45" r="0.44" fill="none" stroke="#fff" stroke-width="0.22"/><circle cx="405.96" cy="146.45" r="0.44" fill="none" stroke="#fff" stroke-width="0.22"/><rect x="405.38" y="145.37" width="0.44" height="0.39" fill="#fff"/>
<circle cx="409.4" cy="146.2" r="1.71" fill="#1f9a48" stroke="#fff" stroke-opacity="0.55" stroke-width="0.24"/><path d="M408.65 145.81h0.5v1.22h-0.5zM409.65 145.81h0.5v1.22h-0.5zM409.23 146.26h0.33v0.78h-0.33z" fill="#fff"/><circle cx="408.9" cy="145.53" r="0.23" fill="#fff"/><circle cx="409.9" cy="145.53" r="0.23" fill="#fff"/>
<text x="407.2" y="144.57" font-size="2.2" fill="#fff" font-weight="normal" text-anchor="middle">Estonia</text>
<circle cx="372.8" cy="154.0" r="1.71" fill="#1f9a48" stroke="#fff" stroke-opacity="0.55" stroke-width="0.24"/><circle cx="372.44" cy="154.25" r="0.44" fill="none" stroke="#fff" stroke-width="0.22"/><circle cx="373.16" cy="154.25" r="0.44" fill="none" stroke="#fff" stroke-width="0.22"/><rect x="372.58" y="153.17" width="0.44" height="0.39" fill="#fff"/>
<circle cx="376.5" cy="154.0" r="1.71" fill="#1f9a48" stroke="#fff" stroke-opacity="0.55" stroke-width="0.24"/><path d="M375.75 153.61h0.5v1.22h-0.5zM376.75 153.61h0.5v1.22h-0.5zM376.33 154.06h0.33v0.78h-0.33z" fill="#fff"/><circle cx="376.0" cy="153.33" r="0.23" fill="#fff"/><circle cx="377.0" cy="153.33" r="0.23" fill="#fff"/>
<text x="374.5" y="151.97" font-size="2.2" fill="#1d1d1d" font-weight="normal" text-anchor="middle">Denmark</text>
<circle cx="404.4" cy="156.2" r="2.51" fill="#8d1a21" stroke="#fff" stroke-opacity="0.55" stroke-width="0.35"/><path d="M403.26 155.87l0.65 0 1.22 -0.73v2.12l-1.22 -0.73h-0.65z" fill="#fff"/>
<circle cx="411.2" cy="161.2" r="3.19" fill="#8d1a21" stroke="#fff" stroke-opacity="0.55" stroke-width="0.45"/><path d="M409.75 160.79l0.83 0 1.56 -0.93v2.7l-1.56 -0.93h-0.83z" fill="#fff"/>
<circle cx="418.1" cy="161.2" r="3.19" fill="#8d1a21" stroke="#fff" stroke-opacity="0.55" stroke-width="0.45"/><path d="M417.22 160.68a0.88 0.99 0 1 1 1.76 0q0 0.93 -0.88 2.07q-0.88 -1.14 -0.88 -2.07z" fill="#fff"/><circle cx="418.1" cy="160.68" r="0.36" fill="#8d1a21"/>
<text x="414.4" y="157.91" font-size="2.6" fill="#1d1d1d" font-weight="bold" text-anchor="middle">Belarus</text>
<text x="328.8" y="156.76" font-size="3.6" fill="#1d1d1d" font-weight="bold" text-anchor="middle" textLength="11.5" lengthAdjust="spacingAndGlyphs">Ireland</text>
<circle cx="325.0" cy="161.0" r="3.53" fill="#1f9a48" stroke="#fff" stroke-opacity="0.55" stroke-width="0.5"/><circle cx="324.25" cy="161.52" r="0.92" fill="none" stroke="#fff" stroke-width="0.46"/><circle cx="325.75" cy="161.52" r="0.92" fill="none" stroke="#fff" stroke-width="0.46"/><rect x="324.54" y="159.28" width="0.92" height="0.8" fill="#fff"/>
<circle cx="332.7" cy="161.0" r="3.53" fill="#1f9a48" stroke="#fff" stroke-opacity="0.55" stroke-width="0.5"/><path d="M331.15 160.2h1.03v2.53h-1.03zM333.22 160.2h1.03v2.53h-1.03zM332.36 161.11h0.69v1.61h-0.69z" fill="#fff"/><circle cx="331.67" cy="159.62" r="0.48" fill="#fff"/><circle cx="333.73" cy="159.62" r="0.48" fill="#fff"/>
<text x="348.5" y="160.62" font-size="3.2" fill="#fff" font-weight="normal" text-anchor="middle">UK</text>
<circle cx="344.3" cy="166.0" r="3.53" fill="#1f9a48" stroke="#fff" stroke-opacity="0.55" stroke-width="0.5"/><circle cx="343.55" cy="166.52" r="0.92" fill="none" stroke="#fff" stroke-width="0.46"/><circle cx="345.05" cy="166.52" r="0.92" fill="none" stroke="#fff" stroke-width="0.46"/><rect x="343.84" y="164.28" width="0.92" height="0.8" fill="#fff"/>
<circle cx="352.0" cy="165.8" r="3.53" fill="#1f9a48" stroke="#fff" stroke-opacity="0.55" stroke-width="0.5"/><path d="M350.45 165.0h1.03v2.53h-1.03zM352.52 165.0h1.03v2.53h-1.03zM351.66 165.91h0.69v1.61h-0.69z" fill="#fff"/><circle cx="350.97" cy="164.42" r="0.48" fill="#fff"/><circle cx="353.03" cy="164.42" r="0.48" fill="#fff"/>
<circle cx="361.2" cy="162.2" r="1.71" fill="#1f9a48" stroke="#fff" stroke-opacity="0.55" stroke-width="0.24"/><circle cx="360.84" cy="162.45" r="0.44" fill="none" stroke="#fff" stroke-width="0.22"/><circle cx="361.56" cy="162.45" r="0.44" fill="none" stroke="#fff" stroke-width="0.22"/><rect x="360.98" y="161.37" width="0.44" height="0.39" fill="#fff"/>
<circle cx="365.0" cy="162.2" r="1.71" fill="#1f9a48" stroke="#fff" stroke-opacity="0.55" stroke-width="0.24"/><path d="M364.25 161.81h0.5v1.22h-0.5zM365.25 161.81h0.5v1.22h-0.5zM364.83 162.26h0.33v0.78h-0.33z" fill="#fff"/><circle cx="364.5" cy="161.53" r="0.23" fill="#fff"/><circle cx="365.5" cy="161.53" r="0.23" fill="#fff"/>
<text x="362.8" y="159.87" font-size="2.2" fill="#1d1d1d" font-weight="normal" text-anchor="middle">Netherlands</text>
<circle cx="374.0" cy="166.5" r="1.71" fill="#1f9a48" stroke="#fff" stroke-opacity="0.55" stroke-width="0.24"/><circle cx="373.64" cy="166.75" r="0.44" fill="none" stroke="#fff" stroke-width="0.22"/><circle cx="374.36" cy="166.75" r="0.44" fill="none" stroke="#fff" stroke-width="0.22"/><rect x="373.78" y="165.67" width="0.44" height="0.39" fill="#fff"/>
<circle cx="377.8" cy="166.5" r="1.71" fill="#1f9a48" stroke="#fff" stroke-opacity="0.55" stroke-width="0.24"/><path d="M377.05 166.11h0.5v1.22h-0.5zM378.05 166.11h0.5v1.22h-0.5zM377.63 166.56h0.33v0.78h-0.33z" fill="#fff"/><circle cx="377.3" cy="165.83" r="0.23" fill="#fff"/><circle cx="378.3" cy="165.83" r="0.23" fill="#fff"/>
<text x="375.6" y="164.22" font-size="3.2" fill="#fff" font-weight="normal" text-anchor="middle">Germany</text>
<circle cx="360.2" cy="170.6" r="1.71" fill="#1f9a48" stroke="#fff" stroke-opacity="0.55" stroke-width="0.24"/><circle cx="359.84" cy="170.85" r="0.44" fill="none" stroke="#fff" stroke-width="0.22"/><circle cx="360.56" cy="170.85" r="0.44" fill="none" stroke="#fff" stroke-width="0.22"/><rect x="359.98" y="169.77" width="0.44" height="0.39" fill="#fff"/>
<circle cx="364.0" cy="170.6" r="1.71" fill="#1f9a48" stroke="#fff" stroke-opacity="0.55" stroke-width="0.24"/><path d="M363.25 170.21h0.5v1.22h-0.5zM364.25 170.21h0.5v1.22h-0.5zM363.83 170.66h0.33v0.78h-0.33z" fill="#fff"/><circle cx="363.5" cy="169.93" r="0.23" fill="#fff"/><circle cx="364.5" cy="169.93" r="0.23" fill="#fff"/>
<text x="361.2" y="168.97" font-size="2.2" fill="#fff" font-weight="normal" text-anchor="middle">Belgium</text>
<circle cx="366.9" cy="174.0" r="1.71" fill="#1f9a48" stroke="#fff" stroke-opacity="0.55" stroke-width="0.24"/><circle cx="366.54" cy="174.25" r="0.44" fill="none" stroke="#fff" stroke-width="0.22"/><circle cx="367.26" cy="174.25" r="0.44" fill="none" stroke="#fff" stroke-width="0.22"/><rect x="366.68" y="173.17" width="0.44" height="0.39" fill="#fff"/>
<circle cx="370.6" cy="174.0" r="1.71" fill="#1f9a48" stroke="#fff" stroke-opacity="0.55" stroke-width="0.24"/><path d="M369.85 173.61h0.5v1.22h-0.5zM370.85 173.61h0.5v1.22h-0.5zM370.43 174.06h0.33v0.78h-0.33z" fill="#fff"/><circle cx="370.1" cy="173.33" r="0.23" fill="#fff"/><circle cx="371.1" cy="173.33" r="0.23" fill="#fff"/>
<text x="394.0" y="165.52" font-size="3.2" fill="#1d1d1d" font-weight="bold" text-anchor="middle">Poland</text>
<text x="421.9" y="172.62" font-size="3.2" fill="#1d1d1d" font-weight="bold" text-anchor="middle">Ukraine</text>
<circle cx="385.0" cy="172.5" r="2.05" fill="#1f9a48" stroke="#fff" stroke-opacity="0.55" stroke-width="0.29"/><circle cx="384.57" cy="172.8" r="0.53" fill="none" stroke="#fff" stroke-width="0.27"/><circle cx="385.43" cy="172.8" r="0.53" fill="none" stroke="#fff" stroke-width="0.27"/><rect x="384.73" y="171.5" width="0.53" height="0.47" fill="#fff"/>
<text x="383.8" y="170.57" font-size="2.2" fill="#fff" font-weight="normal" text-anchor="middle">Czechia</text>
<circle cx="374.0" cy="178.5" r="1.71" fill="#1f9a48" stroke="#fff" stroke-opacity="0.55" stroke-width="0.24"/><circle cx="373.64" cy="178.75" r="0.44" fill="none" stroke="#fff" stroke-width="0.22"/><circle cx="374.36" cy="178.75" r="0.44" fill="none" stroke="#fff" stroke-width="0.22"/><rect x="373.78" y="177.67" width="0.44" height="0.39" fill="#fff"/>
<circle cx="377.8" cy="178.5" r="1.71" fill="#1f9a48" stroke="#fff" stroke-opacity="0.55" stroke-width="0.24"/><path d="M377.05 178.11h0.5v1.22h-0.5zM378.05 178.11h0.5v1.22h-0.5zM377.63 178.56h0.33v0.78h-0.33z" fill="#fff"/><circle cx="377.3" cy="177.83" r="0.23" fill="#fff"/><circle cx="378.3" cy="177.83" r="0.23" fill="#fff"/>
<circle cx="383.1" cy="178.8" r="1.82" fill="#1f9a48" stroke="#fff" stroke-opacity="0.55" stroke-width="0.26"/><circle cx="382.71" cy="179.07" r="0.47" fill="none" stroke="#fff" stroke-width="0.24"/><circle cx="383.49" cy="179.07" r="0.47" fill="none" stroke="#fff" stroke-width="0.24"/><rect x="382.86" y="177.91" width="0.47" height="0.41" fill="#fff"/>
<circle cx="386.9" cy="178.8" r="1.82" fill="#1f9a48" stroke="#fff" stroke-opacity="0.55" stroke-width="0.26"/><path d="M386.1 178.39h0.53v1.3h-0.53zM387.17 178.39h0.53v1.3h-0.53zM386.72 178.86h0.36v0.83h-0.36z" fill="#fff"/><circle cx="386.37" cy="178.09" r="0.25" fill="#fff"/><circle cx="387.43" cy="178.09" r="0.25" fill="#fff"/>
<text x="356.0" y="180.03" font-size="3.8" fill="#fff" font-weight="normal" text-anchor="middle">France</text>
<circle cx="352.5" cy="183.8" r="3.53" fill="#1f9a48" stroke="#fff" stroke-opacity="0.55" stroke-width="0.5"/><circle cx="351.75" cy="184.32" r="0.92" fill="none" stroke="#fff" stroke-width="0.46"/><circle cx="353.25" cy="184.32" r="0.92" fill="none" stroke="#fff" stroke-width="0.46"/><rect x="352.04" y="182.08" width="0.92" height="0.8" fill="#fff"/>
<circle cx="360.0" cy="183.8" r="3.53" fill="#1f9a48" stroke="#fff" stroke-opacity="0.55" stroke-width="0.5"/><path d="M358.45 183.0h1.03v2.53h-1.03zM360.52 183.0h1.03v2.53h-1.03zM359.66 183.91h0.69v1.61h-0.69z" fill="#fff"/><circle cx="358.97" cy="182.42" r="0.48" fill="#fff"/><circle cx="361.03" cy="182.42" r="0.48" fill="#fff"/>
<circle cx="368.5" cy="183.1" r="1.6" fill="#1f9a48" stroke="#fff" stroke-opacity="0.55" stroke-width="0.22"/><circle cx="368.16" cy="183.33" r="0.41" fill="none" stroke="#fff" stroke-width="0.21"/><circle cx="368.84" cy="183.33" r="0.41" fill="none" stroke="#fff" stroke-width="0.21"/><rect x="368.29" y="182.32" width="0.41" height="0.36" fill="#fff"/>
<circle cx="372.2" cy="183.1" r="1.6" fill="#1f9a48" stroke="#fff" stroke-opacity="0.55" stroke-width="0.22"/><path d="M371.5 182.74h0.47v1.14h-0.47zM372.43 182.74h0.47v1.14h-0.47zM372.04 183.15h0.31v0.73h-0.31z" fill="#fff"/><circle cx="371.73" cy="182.48" r="0.22" fill="#fff"/><circle cx="372.67" cy="182.48" r="0.22" fill="#fff"/>
<circle cx="381.9" cy="185.0" r="1.71" fill="#1f9a48" stroke="#fff" stroke-opacity="0.55" stroke-width="0.24"/><circle cx="381.54" cy="185.25" r="0.44" fill="none" stroke="#fff" stroke-width="0.22"/><circle cx="382.26" cy="185.25" r="0.44" fill="none" stroke="#fff" stroke-width="0.22"/><rect x="381.68" y="184.17" width="0.44" height="0.39" fill="#fff"/>
<circle cx="385.6" cy="185.0" r="1.71" fill="#1f9a48" stroke="#fff" stroke-opacity="0.55" stroke-width="0.24"/><path d="M384.85 184.61h0.5v1.22h-0.5zM385.85 184.61h0.5v1.22h-0.5zM385.43 185.06h0.33v0.78h-0.33z" fill="#fff"/><circle cx="385.1" cy="184.33" r="0.23" fill="#fff"/><circle cx="386.1" cy="184.33" r="0.23" fill="#fff"/>
<circle cx="392.9" cy="186.9" r="2.05" fill="#1f9a48" stroke="#fff" stroke-opacity="0.55" stroke-width="0.29"/><circle cx="392.47" cy="187.2" r="0.53" fill="none" stroke="#fff" stroke-width="0.27"/><circle cx="393.33" cy="187.2" r="0.53" fill="none" stroke="#fff" stroke-width="0.27"/><rect x="392.63" y="185.9" width="0.53" height="0.47" fill="#fff"/>
<circle cx="371.0" cy="189.8" r="1.6" fill="#1f9a48" stroke="#fff" stroke-opacity="0.55" stroke-width="0.22"/><circle cx="370.66" cy="190.03" r="0.41" fill="none" stroke="#fff" stroke-width="0.21"/><circle cx="371.34" cy="190.03" r="0.41" fill="none" stroke="#fff" stroke-width="0.21"/><rect x="370.79" y="189.02" width="0.41" height="0.36" fill="#fff"/>
<circle cx="374.8" cy="189.8" r="1.6" fill="#1f9a48" stroke="#fff" stroke-opacity="0.55" stroke-width="0.22"/><path d="M374.1 189.44h0.47v1.14h-0.47zM375.03 189.44h0.47v1.14h-0.47zM374.64 189.85h0.31v0.73h-0.31z" fill="#fff"/><circle cx="374.33" cy="189.18" r="0.22" fill="#fff"/><circle cx="375.27" cy="189.18" r="0.22" fill="#fff"/>
<circle cx="378.6" cy="196.7" r="3.19" fill="#1f9a48" stroke="#fff" stroke-opacity="0.55" stroke-width="0.45"/><circle cx="377.93" cy="197.17" r="0.83" fill="none" stroke="#fff" stroke-width="0.41"/><circle cx="379.27" cy="197.17" r="0.83" fill="none" stroke="#fff" stroke-width="0.41"/><rect x="378.19" y="195.14" width="0.83" height="0.73" fill="#fff"/>
<text x="378.8" y="193.21" font-size="2.6" fill="#1d1d1d" font-weight="normal" text-anchor="middle">Italy</text>
<circle cx="351.5" cy="194.4" r="1.71" fill="#1f9a48" stroke="#fff" stroke-opacity="0.55" stroke-width="0.24"/><circle cx="351.14" cy="194.65" r="0.44" fill="none" stroke="#fff" stroke-width="0.22"/><circle cx="351.86" cy="194.65" r="0.44" fill="none" stroke="#fff" stroke-width="0.22"/><rect x="351.28" y="193.57" width="0.44" height="0.39" fill="#fff"/>
<circle cx="355.2" cy="194.4" r="1.71" fill="#1f9a48" stroke="#fff" stroke-opacity="0.55" stroke-width="0.24"/><path d="M354.45 194.01h0.5v1.22h-0.5zM355.45 194.01h0.5v1.22h-0.5zM355.03 194.46h0.33v0.78h-0.33z" fill="#fff"/><circle cx="354.7" cy="193.73" r="0.23" fill="#fff"/><circle cx="355.7" cy="193.73" r="0.23" fill="#fff"/>
<text x="341.9" y="196.86" font-size="3.6" fill="#fff" font-weight="normal" text-anchor="middle">Spain</text>
<circle cx="338.5" cy="201.9" r="3.31" fill="#1f9a48" stroke="#fff" stroke-opacity="0.55" stroke-width="0.46"/><circle cx="337.8" cy="202.38" r="0.86" fill="none" stroke="#fff" stroke-width="0.43"/><circle cx="339.2" cy="202.38" r="0.86" fill="none" stroke="#fff" stroke-width="0.43"/><rect x="338.07" y="200.29" width="0.86" height="0.75" fill="#fff"/>
<circle cx="346.2" cy="201.9" r="3.31" fill="#1f9a48" stroke="#fff" stroke-opacity="0.55" stroke-width="0.46"/><path d="M344.75 201.15h0.97v2.36h-0.97zM346.68 201.15h0.97v2.36h-0.97zM345.88 202.01h0.64v1.5h-0.64z" fill="#fff"/><circle cx="345.23" cy="200.61" r="0.45" fill="#fff"/><circle cx="347.17" cy="200.61" r="0.45" fill="#fff"/>
<circle cx="404.4" cy="205.9" r="3.19" fill="#1f9a48" stroke="#fff" stroke-opacity="0.55" stroke-width="0.45"/><circle cx="403.73" cy="206.37" r="0.83" fill="none" stroke="#fff" stroke-width="0.41"/><circle cx="405.07" cy="206.37" r="0.83" fill="none" stroke="#fff" stroke-width="0.41"/><rect x="403.99" y="204.34" width="0.83" height="0.73" fill="#fff"/>
<text x="403.3" y="202.78" font-size="2.5" fill="#1d1d1d" font-weight="normal" text-anchor="middle">Greece</text>
<text x="396.3" y="174.9" font-size="2" fill="#fff" font-weight="normal" text-anchor="middle">Slovakia</text>
<text x="395.0" y="179.97" font-size="2.2" fill="#fff" font-weight="normal" text-anchor="middle">Hungary</text>
<text x="407.7" y="184.31" font-size="2.9" fill="#fff" font-weight="bold" text-anchor="middle">Romania</text>
<text x="409.4" y="193.97" font-size="2.2" fill="#fff" font-weight="normal" text-anchor="middle">Bulgaria</text>
<text x="399.8" y="189.57" font-size="2.2" fill="#fff" font-weight="normal" text-anchor="middle">Serbia</text>
<text x="365.0" y="194.2" font-size="2" fill="#1d1d1d" font-weight="normal" text-anchor="middle">Monaco</text>
<text x="321.0" y="201.2" font-size="4" fill="#1d1d1d" font-weight="bold" text-anchor="middle" textLength="12.5" lengthAdjust="spacingAndGlyphs">Portugal</text>
<circle cx="318.4" cy="205.9" r="3.31" fill="#1f9a48" stroke="#fff" stroke-opacity="0.55" stroke-width="0.46"/><circle cx="317.7" cy="206.38" r="0.86" fill="none" stroke="#fff" stroke-width="0.43"/><circle cx="319.1" cy="206.38" r="0.86" fill="none" stroke="#fff" stroke-width="0.43"/><rect x="317.97" y="204.29" width="0.86" height="0.75" fill="#fff"/>
<circle cx="326.2" cy="205.9" r="3.31" fill="#1f9a48" stroke="#fff" stroke-opacity="0.55" stroke-width="0.46"/><path d="M324.75 205.15h0.97v2.36h-0.97zM326.68 205.15h0.97v2.36h-0.97zM325.88 206.01h0.64v1.5h-0.64z" fill="#fff"/><circle cx="325.23" cy="204.61" r="0.45" fill="#fff"/><circle cx="327.17" cy="204.61" r="0.45" fill="#fff"/>
<text x="387.2" y="217.69" font-size="3.1" fill="#1d1d1d" font-weight="normal" text-anchor="middle">Malta</text>
<circle cx="384.9" cy="222.2" r="3.08" fill="#1f9a48" stroke="#fff" stroke-opacity="0.55" stroke-width="0.43"/><circle cx="384.25" cy="222.65" r="0.8" fill="none" stroke="#fff" stroke-width="0.4"/><circle cx="385.55" cy="222.65" r="0.8" fill="none" stroke="#fff" stroke-width="0.4"/><rect x="384.5" y="220.7" width="0.8" height="0.7" fill="#fff"/>
<circle cx="392.2" cy="222.2" r="3.08" fill="#1f9a48" stroke="#fff" stroke-opacity="0.55" stroke-width="0.43"/><path d="M390.85 221.5h0.9v2.2h-0.9zM392.65 221.5h0.9v2.2h-0.9zM391.9 222.3h0.6v1.4h-0.6z" fill="#fff"/><circle cx="391.3" cy="221.0" r="0.42" fill="#fff"/><circle cx="393.1" cy="221.0" r="0.42" fill="#fff"/>
<circle cx="384.0" cy="216.8" r="0.9" fill="#1a3768" stroke="#c9b79d" stroke-width="0.2"/>
<text x="335.6" y="224.85" font-size="3" fill="#fff" font-weight="normal" text-anchor="middle">Morocco</text>
<circle cx="330.0" cy="229.4" r="3.08" fill="#8d1a21" stroke="#fff" stroke-opacity="0.55" stroke-width="0.43"/><path d="M328.6 229.0l0.8 0 1.5 -0.9v2.6l-1.5 -0.9h-0.8z" fill="#fff"/>
<circle cx="337.1" cy="229.4" r="3.08" fill="#8d1a21" stroke="#fff" stroke-opacity="0.55" stroke-width="0.43"/><path d="M336.25 228.9a0.85 0.95 0 1 1 1.7 0q0 0.9 -0.85 2.0q-0.85 -1.1 -0.85 -2.0z" fill="#fff"/><circle cx="337.1" cy="228.9" r="0.35" fill="#8d1a21"/>
<text x="372.2" y="217.32" font-size="3.2" fill="#fff" font-weight="normal" text-anchor="middle">Tunisia</text>
<circle cx="372.8" cy="221.5" r="3.08" fill="#8d1a21" stroke="#fff" stroke-opacity="0.55" stroke-width="0.43"/><path d="M371.4 221.1l0.8 0 1.5 -0.9v2.6l-1.5 -0.9h-0.8z" fill="#fff"/>
<text x="356.2" y="236.79" font-size="3.4" fill="#fff" font-weight="normal" text-anchor="middle">Algeria</text>
<circle cx="352.1" cy="241.6" r="3.08" fill="#8d1a21" stroke="#fff" stroke-opacity="0.55" stroke-width="0.43"/><path d="M350.7 241.2l0.8 0 1.5 -0.9v2.6l-1.5 -0.9h-0.8z" fill="#fff"/>
<circle cx="359.6" cy="241.6" r="3.08" fill="#8d1a21" stroke="#fff" stroke-opacity="0.55" stroke-width="0.43"/><path d="M358.75 241.1a0.85 0.95 0 1 1 1.7 0q0 0.9 -0.85 2.0q-0.85 -1.1 -0.85 -2.0z" fill="#fff"/><circle cx="359.6" cy="241.1" r="0.35" fill="#8d1a21"/>
<text x="392.8" y="241.39" font-size="3.4" fill="#fff" font-weight="normal" text-anchor="middle">Libya</text>
<circle cx="389.1" cy="245.9" r="3.08" fill="#8d1a21" stroke="#fff" stroke-opacity="0.55" stroke-width="0.43"/><path d="M387.7 245.5l0.8 0 1.5 -0.9v2.6l-1.5 -0.9h-0.8z" fill="#fff"/>
<circle cx="396.6" cy="245.9" r="3.08" fill="#8d1a21" stroke="#fff" stroke-opacity="0.55" stroke-width="0.43"/><path d="M395.75 245.4a0.85 0.95 0 1 1 1.7 0q0 0.9 -0.85 2.0q-0.85 -1.1 -0.85 -2.0z" fill="#fff"/><circle cx="396.6" cy="245.4" r="0.35" fill="#8d1a21"/>
<text x="309.1" y="248.69" font-size="3.4" fill="#97979c" font-weight="normal" text-anchor="middle">Western</text>
<text x="309.1" y="252.79" font-size="3.4" fill="#97979c" font-weight="normal" text-anchor="middle">Sahara</text>
<text x="320.6" y="265.75" font-size="3.3" fill="#fff" font-weight="bold" text-anchor="middle">Mauritania</text>
<text x="320.2" y="269.71" font-size="2.6" fill="#e9a23b" font-weight="bold" text-anchor="middle">(P)</text>
<circle cx="320.6" cy="274.0" r="3.08" fill="#8d1a21" stroke="#fff" stroke-opacity="0.55" stroke-width="0.43"/><path d="M319.75 273.5a0.85 0.95 0 1 1 1.7 0q0 0.9 -0.85 2.0q-0.85 -1.1 -0.85 -2.0z" fill="#fff"/><circle cx="320.6" cy="273.5" r="0.35" fill="#8d1a21"/>
<text x="343.1" y="269.06" font-size="3.6" fill="#1d1d1d" font-weight="bold" text-anchor="middle">Mali</text>
<circle cx="343.7" cy="273.4" r="3.08" fill="#8d1a21" stroke="#fff" stroke-opacity="0.55" stroke-width="0.43"/><path d="M342.85 272.9a0.85 0.95 0 1 1 1.7 0q0 0.9 -0.85 2.0q-0.85 -1.1 -0.85 -2.0z" fill="#fff"/><circle cx="343.7" cy="272.9" r="0.35" fill="#8d1a21"/>
<text x="373.1" y="273.76" font-size="3.6" fill="#1d1d1d" font-weight="bold" text-anchor="middle">Niger</text>
<text x="396.6" y="279.29" font-size="3.4" fill="#fff" font-weight="normal" text-anchor="middle">Chad</text>
<text x="285.9" y="274.19" font-size="3.1" fill="#1d1d1d" font-weight="normal" text-anchor="middle">Cape Verde</text>
<circle cx="286.3" cy="279.6" r="2.6" fill="#b7dbf0" stroke="#c9b79d" stroke-width="0.2"/>
<text x="422.5" y="243.69" font-size="3.4" fill="#1d1d1d" font-weight="bold" text-anchor="middle">Egypt</text>
<circle cx="418.8" cy="248.0" r="3.08" fill="#8d1a21" stroke="#fff" stroke-opacity="0.55" stroke-width="0.43"/><path d="M417.4 247.6l0.8 0 1.5 -0.9v2.6l-1.5 -0.9h-0.8z" fill="#fff"/>
<circle cx="426.2" cy="248.0" r="3.08" fill="#8d1a21" stroke="#fff" stroke-opacity="0.55" stroke-width="0.43"/><path d="M425.35 247.5a0.85 0.95 0 1 1 1.7 0q0 0.9 -0.85 2.0q-0.85 -1.1 -0.85 -2.0z" fill="#fff"/><circle cx="426.2" cy="247.5" r="0.35" fill="#8d1a21"/>
<text x="425.0" y="273.69" font-size="3.4" fill="#fff" font-weight="bold" text-anchor="middle">Sudan</text>
<text x="425.0" y="277.91" font-size="2.6" fill="#e9a23b" font-weight="bold" text-anchor="middle">(E)</text>
<circle cx="425.8" cy="281.5" r="3.08" fill="#8d1a21" stroke="#fff" stroke-opacity="0.55" stroke-width="0.43"/><path d="M424.95 281.0a0.85 0.95 0 1 1 1.7 0q0 0.9 -0.85 2.0q-0.85 -1.1 -0.85 -2.0z" fill="#fff"/><circle cx="425.8" cy="281.0" r="0.35" fill="#8d1a21"/>
<text x="440.0" y="280.15" font-size="3.3" fill="#fff" font-weight="normal" text-anchor="middle">Eritrea</text>
<text x="433.8" y="204.19" font-size="3.4" fill="#1d1d1d" font-weight="bold" text-anchor="middle">Turkey</text>
<text x="454.2" y="224.92" font-size="3.2" fill="#1d1d1d" font-weight="bold" text-anchor="middle">Iraq</text>
<text x="443.8" y="215.71" font-size="2.6" fill="#fff" font-weight="normal" text-anchor="middle">Syria</text>
<circle cx="443.4" cy="219.0" r="2.74" fill="#8d1a21" stroke="#fff" stroke-opacity="0.55" stroke-width="0.38"/><path d="M442.16 218.64l0.71 0 1.33 -0.8v2.31l-1.33 -0.8h-0.71z" fill="#fff"/>
<circle cx="431.9" cy="216.5" r="2.51" fill="#1f9a48" stroke="#fff" stroke-opacity="0.55" stroke-width="0.35"/><circle cx="431.37" cy="216.87" r="0.65" fill="none" stroke="#fff" stroke-width="0.33"/><circle cx="432.43" cy="216.87" r="0.65" fill="none" stroke="#fff" stroke-width="0.33"/><rect x="431.57" y="215.28" width="0.65" height="0.57" fill="#fff"/>
<circle cx="421.2" cy="220.6" r="2.74" fill="#8d1a21" stroke="#fff" stroke-opacity="0.55" stroke-width="0.38"/><path d="M419.96 220.24l0.71 0 1.33 -0.8v2.31l-1.33 -0.8h-0.71z" fill="#fff"/>
<circle cx="415.6" cy="220.6" r="2.74" fill="#8d1a21" stroke="#fff" stroke-opacity="0.55" stroke-width="0.38"/><path d="M414.84 220.16a0.76 0.84 0 1 1 1.51 0q0 0.8 -0.76 1.78q-0.76 -0.98 -0.76 -1.78z" fill="#fff"/><circle cx="415.6" cy="220.16" r="0.31" fill="#8d1a21"/>
<circle cx="419.4" cy="226.2" r="2.51" fill="#1f9a48" stroke="#fff" stroke-opacity="0.55" stroke-width="0.35"/><circle cx="418.87" cy="226.57" r="0.65" fill="none" stroke="#fff" stroke-width="0.33"/><circle cx="419.93" cy="226.57" r="0.65" fill="none" stroke="#fff" stroke-width="0.33"/><rect x="419.07" y="224.98" width="0.65" height="0.57" fill="#fff"/>
<circle cx="424.4" cy="226.2" r="2.51" fill="#1f9a48" stroke="#fff" stroke-opacity="0.55" stroke-width="0.35"/><path d="M423.3 225.63h0.73v1.79h-0.73zM424.77 225.63h0.73v1.79h-0.73zM424.16 226.28h0.49v1.14h-0.49z" fill="#fff"/><circle cx="423.67" cy="225.22" r="0.34" fill="#fff"/><circle cx="425.13" cy="225.22" r="0.34" fill="#fff"/>
<circle cx="438.8" cy="235.2" r="2.62" fill="#8d1a21" stroke="#fff" stroke-opacity="0.55" stroke-width="0.37"/><path d="M437.61 234.86l0.68 0 1.28 -0.77v2.21l-1.28 -0.77h-0.68z" fill="#fff"/>
<circle cx="443.8" cy="233.5" r="2.62" fill="#8d1a21" stroke="#fff" stroke-opacity="0.55" stroke-width="0.37"/><path d="M443.08 233.07a0.72 0.81 0 1 1 1.45 0q0 0.77 -0.72 1.7q-0.72 -0.94 -0.72 -1.7z" fill="#fff"/><circle cx="443.8" cy="233.07" r="0.3" fill="#8d1a21"/>
<circle cx="463.1" cy="238.1" r="2.62" fill="#8d1a21" stroke="#fff" stroke-opacity="0.55" stroke-width="0.37"/><path d="M461.91 237.76l0.68 0 1.28 -0.77v2.21l-1.28 -0.77h-0.68z" fill="#fff"/>
<circle cx="468.1" cy="238.1" r="2.62" fill="#8d1a21" stroke="#fff" stroke-opacity="0.55" stroke-width="0.37"/><path d="M467.38 237.67a0.72 0.81 0 1 1 1.45 0q0 0.77 -0.72 1.7q-0.72 -0.94 -0.72 -1.7z" fill="#fff"/><circle cx="468.1" cy="237.67" r="0.3" fill="#8d1a21"/>
<text x="483.8" y="221.19" font-size="3.4" fill="#fff" font-weight="normal" text-anchor="middle">Iran</text>
<text x="484.0" y="225.31" font-size="2.6" fill="#e9a23b" font-weight="bold" text-anchor="middle">(E)</text>
<circle cx="479.8" cy="231.0" r="3.08" fill="#8d1a21" stroke="#fff" stroke-opacity="0.55" stroke-width="0.43"/><path d="M478.4 230.6l0.8 0 1.5 -0.9v2.6l-1.5 -0.9h-0.8z" fill="#fff"/>
<circle cx="487.9" cy="231.0" r="3.08" fill="#8d1a21" stroke="#fff" stroke-opacity="0.55" stroke-width="0.43"/><path d="M487.05 230.5a0.85 0.95 0 1 1 1.7 0q0 0.9 -0.85 2.0q-0.85 -1.1 -0.85 -2.0z" fill="#fff"/><circle cx="487.9" cy="230.5" r="0.35" fill="#8d1a21"/>
<text x="509.4" y="221.19" font-size="3.4" fill="#fff" font-weight="normal" text-anchor="middle">Afghanistan</text>
<text x="509.4" y="225.01" font-size="2.6" fill="#e9a23b" font-weight="bold" text-anchor="middle">(P)</text>
<circle cx="503.1" cy="229.8" r="3.08" fill="#8d1a21" stroke="#fff" stroke-opacity="0.55" stroke-width="0.43"/><path d="M501.7 229.4l0.8 0 1.5 -0.9v2.6l-1.5 -0.9h-0.8z" fill="#fff"/>
<circle cx="510.6" cy="229.8" r="3.08" fill="#8d1a21" stroke="#fff" stroke-opacity="0.55" stroke-width="0.43"/><path d="M509.75 229.3a0.85 0.95 0 1 1 1.7 0q0 0.9 -0.85 2.0q-0.85 -1.1 -0.85 -2.0z" fill="#fff"/><circle cx="510.6" cy="229.3" r="0.35" fill="#8d1a21"/>
<circle cx="471.0" cy="246.2" r="2.62" fill="#8d1a21" stroke="#fff" stroke-opacity="0.55" stroke-width="0.37"/><path d="M470.28 245.77a0.72 0.81 0 1 1 1.45 0q0 0.77 -0.72 1.7q-0.72 -0.94 -0.72 -1.7z" fill="#fff"/><circle cx="471.0" cy="245.77" r="0.3" fill="#8d1a21"/>
<circle cx="481.2" cy="249.4" r="2.62" fill="#8d1a21" stroke="#fff" stroke-opacity="0.55" stroke-width="0.37"/><path d="M480.01 249.06l0.68 0 1.28 -0.77v2.21l-1.28 -0.77h-0.68z" fill="#fff"/>
<circle cx="488.1" cy="249.4" r="2.62" fill="#8d1a21" stroke="#fff" stroke-opacity="0.55" stroke-width="0.37"/><path d="M487.38 248.97a0.72 0.81 0 1 1 1.45 0q0 0.77 -0.72 1.7q-0.72 -0.94 -0.72 -1.7z" fill="#fff"/><circle cx="488.1" cy="248.97" r="0.3" fill="#8d1a21"/>
<circle cx="475.0" cy="251.2" r="2.62" fill="#8d1a21" stroke="#fff" stroke-opacity="0.55" stroke-width="0.37"/><path d="M473.81 250.86l0.68 0 1.28 -0.77v2.21l-1.28 -0.77h-0.68z" fill="#fff"/>
<text x="478.4" y="245.84" font-size="2.4" fill="#fff" font-weight="normal" text-anchor="middle">Qatar</text>
<text x="522.5" y="233.69" font-size="3.4" fill="#fff" font-weight="normal" text-anchor="middle">Pakistan</text>
<text x="522.5" y="237.91" font-size="2.6" fill="#e9a23b" font-weight="bold" text-anchor="middle">(P)</text>
<circle cx="515.2" cy="242.5" r="3.08" fill="#8d1a21" stroke="#fff" stroke-opacity="0.55" stroke-width="0.43"/><path d="M513.8 242.1l0.8 0 1.5 -0.9v2.6l-1.5 -0.9h-0.8z" fill="#fff"/>
<text x="461.2" y="251.19" font-size="3.4" fill="#fff" font-weight="normal" text-anchor="middle">Saudi</text>
<text x="461.2" y="255.39" font-size="3.4" fill="#fff" font-weight="normal" text-anchor="middle">Arabia</text>
<text x="461.2" y="259.71" font-size="2.6" fill="#e9a23b" font-weight="bold" text-anchor="middle">(E)</text>
<circle cx="458.0" cy="265.5" r="3.08" fill="#8d1a21" stroke="#fff" stroke-opacity="0.55" stroke-width="0.43"/><path d="M456.6 265.1l0.8 0 1.5 -0.9v2.6l-1.5 -0.9h-0.8z" fill="#fff"/>
<circle cx="465.0" cy="265.5" r="3.08" fill="#8d1a21" stroke="#fff" stroke-opacity="0.55" stroke-width="0.43"/><path d="M464.15 265.0a0.85 0.95 0 1 1 1.7 0q0 0.9 -0.85 2.0q-0.85 -1.1 -0.85 -2.0z" fill="#fff"/><circle cx="465.0" cy="265.0" r="0.35" fill="#8d1a21"/>
<text x="463.8" y="280.03" font-size="3.5" fill="#fff" font-weight="normal" text-anchor="middle">Yemen</text>
<circle cx="475.5" cy="280.0" r="2.74" fill="#8d1a21" stroke="#fff" stroke-opacity="0.55" stroke-width="0.38"/><path d="M474.26 279.64l0.71 0 1.33 -0.8v2.31l-1.33 -0.8h-0.71z" fill="#fff"/>
<circle cx="479.2" cy="274.0" r="2.74" fill="#8d1a21" stroke="#fff" stroke-opacity="0.55" stroke-width="0.38"/><path d="M478.44 273.56a0.76 0.84 0 1 1 1.51 0q0 0.8 -0.76 1.78q-0.76 -0.98 -0.76 -1.78z" fill="#fff"/><circle cx="479.2" cy="273.56" r="0.31" fill="#8d1a21"/>
<text x="493.0" y="260.03" font-size="3.5" fill="#fff" font-weight="normal" text-anchor="middle">Oman</text>
<circle cx="487.5" cy="269.0" r="2.74" fill="#8d1a21" stroke="#fff" stroke-opacity="0.55" stroke-width="0.38"/><path d="M486.26 268.64l0.71 0 1.33 -0.8v2.31l-1.33 -0.8h-0.71z" fill="#fff"/>
<circle cx="493.8" cy="264.0" r="2.74" fill="#8d1a21" stroke="#fff" stroke-opacity="0.55" stroke-width="0.38"/><path d="M493.04 263.56a0.76 0.84 0 1 1 1.51 0q0 0.8 -0.76 1.78q-0.76 -0.98 -0.76 -1.78z" fill="#fff"/><circle cx="493.8" cy="263.56" r="0.31" fill="#8d1a21"/>
<circle cx="480.0" cy="258.0" r="2.51" fill="#8d1a21" stroke="#fff" stroke-opacity="0.55" stroke-width="0.35"/><path d="M478.86 257.67l0.65 0 1.22 -0.73v2.12l-1.22 -0.73h-0.65z" fill="#fff"/>
<circle cx="485.5" cy="253.5" r="2.51" fill="#8d1a21" stroke="#fff" stroke-opacity="0.55" stroke-width="0.35"/><path d="M484.81 253.09a0.69 0.77 0 1 1 1.39 0q0 0.73 -0.69 1.63q-0.69 -0.9 -0.69 -1.63z" fill="#fff"/><circle cx="485.5" cy="253.09" r="0.29" fill="#8d1a21"/>
<text x="300.3" y="287.91" font-size="2.9" fill="#1d1d1d" font-weight="normal" text-anchor="middle">Gambia</text>
<text x="299.8" y="292.21" font-size="2.9" fill="#1d1d1d" font-weight="normal" text-anchor="middle">Guinea-Bissau</text>
<text x="318.1" y="296.12" font-size="3.5" fill="#fff" font-weight="normal" text-anchor="middle">Guinea</text>
<text x="311.0" y="304.41" font-size="2.9" fill="#1d1d1d" font-weight="normal" text-anchor="middle">Sierra Leone</text>
<text x="320.4" y="311.38" font-size="3.1" fill="#1d1d1d" font-weight="normal" text-anchor="middle">Liberia</text>
<circle cx="322.2" cy="315.6" r="3.08" fill="#8d1a21" stroke="#fff" stroke-opacity="0.55" stroke-width="0.43"/><path d="M321.35 315.1a0.85 0.95 0 1 1 1.7 0q0 0.9 -0.85 2.0q-0.85 -1.1 -0.85 -2.0z" fill="#fff"/><circle cx="322.2" cy="315.1" r="0.35" fill="#8d1a21"/>
<circle cx="314.0" cy="284.6" r="3.08" fill="#8d1a21" stroke="#fff" stroke-opacity="0.55" stroke-width="0.43"/><path d="M313.15 284.1a0.85 0.95 0 1 1 1.7 0q0 0.9 -0.85 2.0q-0.85 -1.1 -0.85 -2.0z" fill="#fff"/><circle cx="314.0" cy="284.1" r="0.35" fill="#8d1a21"/>
<text x="334.4" y="304.85" font-size="3.0" fill="#1d1d1d" font-weight="normal" text-anchor="middle">Côte</text>
<text x="334.4" y="307.25" font-size="3.0" fill="#1d1d1d" font-weight="normal" text-anchor="middle">d'Ivoire</text>
<text x="344.8" y="310.88" font-size="3.1" fill="#fff" font-weight="normal" text-anchor="middle">Ghana</text>
<text x="350.9" y="303.28" font-size="3.1" fill="#fff" font-weight="normal" text-anchor="middle">Togo</text>
<circle cx="352.8" cy="306.6" r="3.08" fill="#8d1a21" stroke="#fff" stroke-opacity="0.55" stroke-width="0.43"/><path d="M351.4 306.2l0.8 0 1.5 -0.9v2.6l-1.5 -0.9h-0.8z" fill="#fff"/>
<text x="346.2" y="287.91" font-size="2.9" fill="#1d1d1d" font-weight="normal" text-anchor="middle">Burkina</text>
<text x="346.2" y="290.12" font-size="2.9" fill="#1d1d1d" font-weight="normal" text-anchor="middle">Faso</text>
<circle cx="339.1" cy="293.4" r="3.08" fill="#8d1a21" stroke="#fff" stroke-opacity="0.55" stroke-width="0.43"/><path d="M338.25 292.9a0.85 0.95 0 1 1 1.7 0q0 0.9 -0.85 2.0q-0.85 -1.1 -0.85 -2.0z" fill="#fff"/><circle cx="339.1" cy="292.9" r="0.35" fill="#8d1a21"/>
<text x="354.7" y="296.25" font-size="2.7" fill="#1d1d1d" font-weight="normal" text-anchor="middle">Benin</text>
<text x="370.6" y="293.41" font-size="2.6" fill="#e9a23b" font-weight="bold" text-anchor="middle">(E)</text>
<text x="367.8" y="298.92" font-size="3.2" fill="#fff" font-weight="normal" text-anchor="middle">Nigeria</text>
<circle cx="363.1" cy="303.4" r="3.08" fill="#8d1a21" stroke="#fff" stroke-opacity="0.55" stroke-width="0.43"/><path d="M361.7 303.0l0.8 0 1.5 -0.9v2.6l-1.5 -0.9h-0.8z" fill="#fff"/>
<circle cx="369.7" cy="303.4" r="3.08" fill="#8d1a21" stroke="#fff" stroke-opacity="0.55" stroke-width="0.43"/><path d="M368.85 302.9a0.85 0.95 0 1 1 1.7 0q0 0.9 -0.85 2.0q-0.85 -1.1 -0.85 -2.0z" fill="#fff"/><circle cx="369.7" cy="302.9" r="0.35" fill="#8d1a21"/>
<text x="378.1" y="313.92" font-size="3.2" fill="#fff" font-weight="normal" text-anchor="middle">Cameroon</text>
<circle cx="375.3" cy="316.9" r="3.08" fill="#8d1a21" stroke="#fff" stroke-opacity="0.55" stroke-width="0.43"/><path d="M373.9 316.5l0.8 0 1.5 -0.9v2.6l-1.5 -0.9h-0.8z" fill="#fff"/>
<circle cx="381.9" cy="316.9" r="3.08" fill="#8d1a21" stroke="#fff" stroke-opacity="0.55" stroke-width="0.43"/><path d="M381.05 316.4a0.85 0.95 0 1 1 1.7 0q0 0.9 -0.85 2.0q-0.85 -1.1 -0.85 -2.0z" fill="#fff"/><circle cx="381.9" cy="316.4" r="0.35" fill="#8d1a21"/>
<text x="365.0" y="322.65" font-size="3.0" fill="#1d1d1d" font-weight="normal" text-anchor="middle">Equatorial</text>
<text x="365.0" y="325.95" font-size="3.0" fill="#1d1d1d" font-weight="normal" text-anchor="middle">Guinea</text>
<circle cx="374.8" cy="324.0" r="2.2" fill="#e8ceb1" stroke="#c9b79d" stroke-width="0.2"/>
<text x="340.1" y="331.95" font-size="3.0" fill="#1d1d1d" font-weight="normal" text-anchor="middle">São Tomé</text>
<text x="340.1" y="335.75" font-size="3.0" fill="#1d1d1d" font-weight="normal" text-anchor="middle">and Príncipe</text>
<circle cx="353.4" cy="332.4" r="2.3" fill="#e8ceb1" stroke="#c9b79d" stroke-width="0.2"/>
<text x="378.1" y="332.12" font-size="3.5" fill="#1d1d1d" font-weight="bold" text-anchor="middle">Gabon</text>
<text x="383.8" y="341.03" font-size="3.5" fill="#1d1d1d" font-weight="bold" text-anchor="middle">Congo</text>
<text x="404.4" y="307.83" font-size="3.5" fill="#1d1d1d" font-weight="bold" text-anchor="middle">Central</text>
<text x="404.4" y="311.03" font-size="3.5" fill="#1d1d1d" font-weight="bold" text-anchor="middle">African Republic</text>
<text x="407.2" y="332.12" font-size="3.5" fill="#1d1d1d" font-weight="bold" text-anchor="middle">Democratic</text>
<text x="407.2" y="335.93" font-size="3.5" fill="#1d1d1d" font-weight="bold" text-anchor="middle">Republic of</text>
<text x="407.2" y="340.03" font-size="3.5" fill="#1d1d1d" font-weight="bold" text-anchor="middle">the Congo</text>
<circle cx="407.2" cy="345.0" r="3.08" fill="#8d1a21" stroke="#fff" stroke-opacity="0.55" stroke-width="0.43"/><path d="M406.35 344.5a0.85 0.95 0 1 1 1.7 0q0 0.9 -0.85 2.0q-0.85 -1.1 -0.85 -2.0z" fill="#fff"/><circle cx="407.2" cy="344.5" r="0.35" fill="#8d1a21"/>
<text x="425.0" y="305.82" font-size="3.2" fill="#fff" font-weight="normal" text-anchor="middle">South</text>
<text x="425.0" y="308.62" font-size="3.2" fill="#fff" font-weight="normal" text-anchor="middle">Sudan</text>
<text x="432.5" y="321.69" font-size="3.1" fill="#fff" font-weight="normal" text-anchor="middle">Uganda</text>
<circle cx="428.8" cy="325.3" r="3.08" fill="#8d1a21" stroke="#fff" stroke-opacity="0.55" stroke-width="0.43"/><path d="M427.4 324.9l0.8 0 1.5 -0.9v2.6l-1.5 -0.9h-0.8z" fill="#fff"/>
<circle cx="435.3" cy="325.3" r="3.08" fill="#8d1a21" stroke="#fff" stroke-opacity="0.55" stroke-width="0.43"/><path d="M434.45 324.8a0.85 0.95 0 1 1 1.7 0q0 0.9 -0.85 2.0q-0.85 -1.1 -0.85 -2.0z" fill="#fff"/><circle cx="435.3" cy="324.8" r="0.35" fill="#8d1a21"/>
<text x="422.2" y="336.69" font-size="3.1" fill="#1d1d1d" font-weight="bold" text-anchor="middle">Rwanda</text>
<text x="422.2" y="340.48" font-size="3.1" fill="#1d1d1d" font-weight="bold" text-anchor="middle">Burundi</text>
<circle cx="425.4" cy="345.9" r="3.08" fill="#8d1a21" stroke="#fff" stroke-opacity="0.55" stroke-width="0.43"/><path d="M424.55 345.4a0.85 0.95 0 1 1 1.7 0q0 0.9 -0.85 2.0q-0.85 -1.1 -0.85 -2.0z" fill="#fff"/><circle cx="425.4" cy="345.4" r="0.35" fill="#8d1a21"/>
<text x="450.0" y="302.25" font-size="3" fill="#fff" font-weight="normal" text-anchor="middle">Ethiopia</text>
<circle cx="449.5" cy="306.8" r="3.08" fill="#8d1a21" stroke="#fff" stroke-opacity="0.55" stroke-width="0.43"/><path d="M448.65 306.3a0.85 0.95 0 1 1 1.7 0q0 0.9 -0.85 2.0q-0.85 -1.1 -0.85 -2.0z" fill="#fff"/><circle cx="449.5" cy="306.3" r="0.35" fill="#8d1a21"/>
<circle cx="457.8" cy="291.5" r="2.4" fill="#e8ceb1" stroke="#c9b79d" stroke-width="0.2"/>
<text x="461.9" y="292.65" font-size="3.3" fill="#1d1d1d" font-weight="bold" text-anchor="start">Djibouti</text>
<text x="470.0" y="300.23" font-size="3.5" fill="#fff" font-weight="normal" text-anchor="middle">Somalia</text>
<text x="472.5" y="308.41" font-size="2.6" fill="#e9a23b" font-weight="bold" text-anchor="middle">(P)</text>
<circle cx="459.2" cy="322.5" r="2.74" fill="#8d1a21" stroke="#fff" stroke-opacity="0.55" stroke-width="0.38"/><path d="M457.96 322.14l0.71 0 1.33 -0.8v2.31l-1.33 -0.8h-0.71z" fill="#fff"/>
<circle cx="464.2" cy="318.8" r="2.74" fill="#8d1a21" stroke="#fff" stroke-opacity="0.55" stroke-width="0.38"/><path d="M463.44 318.36a0.76 0.84 0 1 1 1.51 0q0 0.8 -0.76 1.78q-0.76 -0.98 -0.76 -1.78z" fill="#fff"/><circle cx="464.2" cy="318.36" r="0.31" fill="#8d1a21"/>
<text x="447.0" y="324.23" font-size="3.5" fill="#fff" font-weight="normal" text-anchor="middle">Kenya</text>
<circle cx="436.2" cy="325.0" r="2.96" fill="#8d1a21" stroke="#fff" stroke-opacity="0.55" stroke-width="0.42"/><path d="M434.85 324.61l0.77 0 1.44 -0.87v2.5l-1.44 -0.87h-0.77z" fill="#fff"/>
<circle cx="445.0" cy="329.0" r="2.96" fill="#8d1a21" stroke="#fff" stroke-opacity="0.55" stroke-width="0.42"/><path d="M444.18 328.52a0.82 0.91 0 1 1 1.64 0q0 0.87 -0.82 1.93q-0.82 -1.06 -0.82 -1.93z" fill="#fff"/><circle cx="445.0" cy="328.52" r="0.34" fill="#8d1a21"/>
<text x="438.4" y="346.95" font-size="3" fill="#fff" font-weight="normal" text-anchor="middle">Tanzania</text>
<circle cx="434.7" cy="352.1" r="3.08" fill="#8d1a21" stroke="#fff" stroke-opacity="0.55" stroke-width="0.43"/><path d="M433.3 351.7l0.8 0 1.5 -0.9v2.6l-1.5 -0.9h-0.8z" fill="#fff"/>
<circle cx="441.8" cy="352.1" r="3.08" fill="#8d1a21" stroke="#fff" stroke-opacity="0.55" stroke-width="0.43"/><path d="M440.95 351.6a0.85 0.95 0 1 1 1.7 0q0 0.9 -0.85 2.0q-0.85 -1.1 -0.85 -2.0z" fill="#fff"/><circle cx="441.8" cy="351.6" r="0.35" fill="#8d1a21"/>
<text x="394.4" y="367.25" font-size="3" fill="#fff" font-weight="normal" text-anchor="middle">Angola</text>
<text x="391.6" y="394.85" font-size="3" fill="#fff" font-weight="normal" text-anchor="middle">Namibia</text>
<text x="410.3" y="400.45" font-size="3" fill="#1d1d1d" font-weight="bold" text-anchor="middle">Botswana</text>
<text x="415.0" y="375.65" font-size="3" fill="#fff" font-weight="normal" text-anchor="middle">Zambia</text>
<circle cx="415.0" cy="379.7" r="3.08" fill="#8d1a21" stroke="#fff" stroke-opacity="0.55" stroke-width="0.43"/><path d="M414.15 379.2a0.85 0.95 0 1 1 1.7 0q0 0.9 -0.85 2.0q-0.85 -1.1 -0.85 -2.0z" fill="#fff"/><circle cx="415.0" cy="379.2" r="0.35" fill="#8d1a21"/>
<text x="424.4" y="390.69" font-size="3.1" fill="#fff" font-weight="normal" text-anchor="middle">Zimbabwe</text>
<text x="434.7" y="365.03" font-size="3.5" fill="#fff" font-weight="normal" text-anchor="middle">Malawi</text>
<circle cx="435.1" cy="369.4" r="3.08" fill="#8d1a21" stroke="#fff" stroke-opacity="0.55" stroke-width="0.43"/><path d="M434.25 368.9a0.85 0.95 0 1 1 1.7 0q0 0.9 -0.85 2.0q-0.85 -1.1 -0.85 -2.0z" fill="#fff"/><circle cx="435.1" cy="368.9" r="0.35" fill="#8d1a21"/>
<text x="442.8" y="387.35" font-size="3.3" fill="#1d1d1d" font-weight="bold" text-anchor="middle">Mozambique</text>
<text x="465.6" y="396.65" font-size="3" fill="#1d1d1d" font-weight="bold" text-anchor="middle">Madagascar</text>
<text x="464.3" y="358.83" font-size="3.5" fill="#1d1d1d" font-weight="bold" text-anchor="middle">Comoros</text>
<circle cx="464.3" cy="363.2" r="2.6" fill="#d97c3a" stroke="#c9b79d" stroke-width="0.2"/>
<text x="484.8" y="346.62" font-size="3.5" fill="#1d1d1d" font-weight="bold" text-anchor="middle">Seychelles</text>
<circle cx="484.8" cy="350.6" r="2.6" fill="#b7dbf0" stroke="#c9b79d" stroke-width="0.2"/>
<text x="491.5" y="386.53" font-size="3.5" fill="#1d1d1d" font-weight="bold" text-anchor="middle">Mauritius</text>
<circle cx="491.5" cy="391.3" r="2.6" fill="#4573b9" stroke="#c9b79d" stroke-width="0.2"/>
<path d="M491.5 388.7A2.6 2.6 0 0 1 491.5 393.90000000000003Z" fill="#d97c3a"/>
<text x="436.6" y="414.25" font-size="3.3" fill="#1d1d1d" font-weight="bold" text-anchor="middle">Eswatini</text>
<circle cx="428.1" cy="413.4" r="2" fill="#d97c3a" stroke="#c9b79d" stroke-width="0.2"/>
<text x="419.1" y="420.83" font-size="3.5" fill="#fff" font-weight="normal" text-anchor="middle">Lesotho</text>
<text x="405.6" y="427.95" font-size="3" fill="#fff" font-weight="normal" text-anchor="middle">South Africa</text>
<circle cx="400.4" cy="433.5" r="3.42" fill="#1f9a48" stroke="#fff" stroke-opacity="0.55" stroke-width="0.48"/><circle cx="399.68" cy="434.0" r="0.89" fill="none" stroke="#fff" stroke-width="0.44"/><circle cx="401.12" cy="434.0" r="0.89" fill="none" stroke="#fff" stroke-width="0.44"/><rect x="399.96" y="431.83" width="0.89" height="0.78" fill="#fff"/>
<circle cx="408.4" cy="433.5" r="3.42" fill="#1f9a48" stroke="#fff" stroke-opacity="0.55" stroke-width="0.48"/><path d="M406.9 432.72h1.0v2.44h-1.0zM408.9 432.72h1.0v2.44h-1.0zM408.07 433.61h0.67v1.56h-0.67z" fill="#fff"/><circle cx="407.4" cy="432.17" r="0.47" fill="#fff"/><circle cx="409.4" cy="432.17" r="0.47" fill="#fff"/>
<text x="541.2" y="136.08" font-size="6.5" fill="#1d1d1d" font-weight="bold" text-anchor="middle" textLength="52" lengthAdjust="spacingAndGlyphs">Russian Federation</text>
<circle cx="535.8" cy="141.2" r="3.19" fill="#8d1a21" stroke="#fff" stroke-opacity="0.55" stroke-width="0.45"/><path d="M534.35 140.79l0.83 0 1.56 -0.93v2.7l-1.56 -0.93h-0.83z" fill="#fff"/>
<circle cx="543.8" cy="141.2" r="3.19" fill="#8d1a21" stroke="#fff" stroke-opacity="0.55" stroke-width="0.45"/><path d="M542.92 140.68a0.88 0.99 0 1 1 1.76 0q0 0.93 -0.88 2.07q-0.88 -1.14 -0.88 -2.07z" fill="#fff"/><circle cx="543.8" cy="140.68" r="0.36" fill="#8d1a21"/>
<text x="502.5" y="175.67" font-size="4.2" fill="#1d1d1d" font-weight="bold" text-anchor="middle" textLength="25" lengthAdjust="spacingAndGlyphs">Kazakhstan</text>
<circle cx="502.0" cy="179.5" r="3.08" fill="#8d1a21" stroke="#fff" stroke-opacity="0.55" stroke-width="0.43"/><path d="M501.15 179.0a0.85 0.95 0 1 1 1.7 0q0 0.9 -0.85 2.0q-0.85 -1.1 -0.85 -2.0z" fill="#fff"/><circle cx="502.0" cy="179.0" r="0.35" fill="#8d1a21"/>
<text x="588.8" y="182.74" font-size="4.4" fill="#fff" font-weight="normal" text-anchor="middle" textLength="20" lengthAdjust="spacingAndGlyphs">Mongolia</text>
<text x="529.1" y="196.22" font-size="3.5" fill="#1d1d1d" font-weight="bold" text-anchor="middle">Kyrgyzstan</text>
<circle cx="529.6" cy="200.2" r="3.08" fill="#8d1a21" stroke="#fff" stroke-opacity="0.55" stroke-width="0.43"/><path d="M528.75 199.7a0.85 0.95 0 1 1 1.7 0q0 0.9 -0.85 2.0q-0.85 -1.1 -0.85 -2.0z" fill="#fff"/><circle cx="529.6" cy="199.7" r="0.35" fill="#8d1a21"/>
<text x="496.2" y="196.91" font-size="2.9" fill="#fff" font-weight="normal" text-anchor="middle">Uzbekistan</text>
<text x="489.7" y="205.01" font-size="2.9" fill="#fff" font-weight="normal" text-anchor="middle">Turkmenistan</text>
<text x="519.1" y="205.81" font-size="2.9" fill="#1d1d1d" font-weight="normal" text-anchor="middle">Tajikistan</text>
<text x="596.0" y="218.05" font-size="7" fill="#1d1d1d" font-weight="bold" text-anchor="middle" textLength="16" lengthAdjust="spacingAndGlyphs">China</text>
<circle cx="592.2" cy="222.8" r="3.19" fill="#8d1a21" stroke="#fff" stroke-opacity="0.55" stroke-width="0.45"/><path d="M590.75 222.39l0.83 0 1.56 -0.93v2.7l-1.56 -0.93h-0.83z" fill="#fff"/>
<circle cx="599.8" cy="222.8" r="3.19" fill="#8d1a21" stroke="#fff" stroke-opacity="0.55" stroke-width="0.45"/><path d="M598.92 222.28a0.88 0.99 0 1 1 1.76 0q0 0.93 -0.88 2.07q-0.88 -1.14 -0.88 -2.07z" fill="#fff"/><circle cx="599.8" cy="222.28" r="0.36" fill="#8d1a21"/>
<text x="547.8" y="257.01" font-size="4.6" fill="#1d1d1d" font-weight="bold" text-anchor="middle" textLength="11" lengthAdjust="spacingAndGlyphs">India</text>
<text x="556.2" y="240.61" font-size="2.9" fill="#fff" font-weight="normal" text-anchor="middle">Nepal</text>
<text x="574.1" y="242.11" font-size="2.9" fill="#1d1d1d" font-weight="normal" text-anchor="middle">Bhutan</text>
<text x="575.0" y="251.99" font-size="3.1" fill="#1d1d1d" font-weight="normal" text-anchor="middle">Bangladesh</text>
<circle cx="575.4" cy="255.9" r="3.08" fill="#8d1a21" stroke="#fff" stroke-opacity="0.55" stroke-width="0.43"/><path d="M574.55 255.4a0.85 0.95 0 1 1 1.7 0q0 0.9 -0.85 2.0q-0.85 -1.1 -0.85 -2.0z" fill="#fff"/><circle cx="575.4" cy="255.4" r="0.35" fill="#8d1a21"/>
<text x="592.8" y="262.65" font-size="3" fill="#fff" font-weight="normal" text-anchor="middle">Myanmar</text>
<text x="608.8" y="266.45" font-size="3.3" fill="#1d1d1d" font-weight="normal" text-anchor="middle">Laos</text>
<text x="609.1" y="281.12" font-size="3.2" fill="#1d1d1d" font-weight="bold" text-anchor="middle">Thailand</text>
<text x="629.7" y="283.95" font-size="3.3" fill="#1d1d1d" font-weight="normal" text-anchor="middle">Vietnam</text>
<text x="617.5" y="288.51" font-size="2.9" fill="#1d1d1d" font-weight="normal" text-anchor="middle">Cambodia</text>
<text x="559.0" y="305.15" font-size="3.3" fill="#1d1d1d" font-weight="normal" text-anchor="middle">Sri Lanka</text>
<text x="532.2" y="311.15" font-size="3.3" fill="#1d1d1d" font-weight="normal" text-anchor="middle">Maldives</text>
<circle cx="532.2" cy="315.1" r="2.4" fill="#d97c3a" stroke="#c9b79d" stroke-width="0.2"/>
<text x="626.2" y="312.32" font-size="3.2" fill="#1d1d1d" font-weight="bold" text-anchor="middle">Malaysia</text>
<circle cx="622.8" cy="316.9" r="3.31" fill="#8d1a21" stroke="#fff" stroke-opacity="0.55" stroke-width="0.46"/><path d="M621.3 316.47l0.86 0 1.61 -0.97v2.79l-1.61 -0.97h-0.86z" fill="#fff"/>
<circle cx="629.8" cy="316.9" r="3.31" fill="#8d1a21" stroke="#fff" stroke-opacity="0.55" stroke-width="0.46"/><path d="M628.89 316.36a0.91 1.02 0 1 1 1.83 0q0 0.97 -0.91 2.15q-0.91 -1.18 -0.91 -2.15z" fill="#fff"/><circle cx="629.8" cy="316.36" r="0.38" fill="#8d1a21"/>
<text x="640.6" y="309.19" font-size="3.1" fill="#1d1d1d" font-weight="normal" text-anchor="middle">Brunei</text>
<circle cx="616.9" cy="325.2" r="2.3" fill="#d97c3a" stroke="#c9b79d" stroke-width="0.2"/>
<text x="623.5" y="325.88" font-size="2.5" fill="#1d1d1d" font-weight="normal" text-anchor="middle">Singapore</text>
<circle cx="619.0" cy="331.0" r="3.31" fill="#8d1a21" stroke="#fff" stroke-opacity="0.55" stroke-width="0.46"/><path d="M617.5 330.57l0.86 0 1.61 -0.97v2.79l-1.61 -0.97h-0.86z" fill="#fff"/>
<circle cx="626.0" cy="331.0" r="3.31" fill="#8d1a21" stroke="#fff" stroke-opacity="0.55" stroke-width="0.46"/><path d="M625.09 330.46a0.91 1.02 0 1 1 1.83 0q0 0.97 -0.91 2.15q-0.91 -1.18 -0.91 -2.15z" fill="#fff"/><circle cx="626.0" cy="330.46" r="0.38" fill="#8d1a21"/>
<text x="658.1" y="340.97" font-size="6.2" fill="#1d1d1d" font-weight="bold" text-anchor="middle" textLength="26" lengthAdjust="spacingAndGlyphs">Indonesia</text>
<circle cx="651.9" cy="344.6" r="3.31" fill="#8d1a21" stroke="#fff" stroke-opacity="0.55" stroke-width="0.46"/><path d="M650.4 344.17l0.86 0 1.61 -0.97v2.79l-1.61 -0.97h-0.86z" fill="#fff"/>
<text x="665.0" y="284.75" font-size="5" fill="#1d1d1d" font-weight="bold" text-anchor="middle" textLength="24" lengthAdjust="spacingAndGlyphs">Philippines</text>
<text x="665.0" y="254.69" font-size="3.1" fill="#1d1d1d" font-weight="normal" text-anchor="middle">Taiwan (China)</text>
<text x="647.0" y="260.48" font-size="2.5" fill="#1d1d1d" font-weight="normal" text-anchor="middle">Hong Kong</text>
<circle cx="635.0" cy="258.5" r="1.4" fill="#b7dbf0" stroke="#c9b79d" stroke-width="0.2"/>
<text x="651.2" y="204.32" font-size="3.5" fill="#1d1d1d" font-weight="bold" text-anchor="middle">North Korea</text>
<text x="659.4" y="214.03" font-size="3.5" fill="#1d1d1d" font-weight="bold" text-anchor="middle">South Korea</text>
<text x="684.4" y="216.62" font-size="3.5" fill="#1d1d1d" font-weight="bold" text-anchor="middle">Japan</text>
<text x="761.0" y="274.08" font-size="3.1" fill="#1d1d1d" font-weight="normal" text-anchor="middle">Marshall Islands</text>
<circle cx="761.0" cy="279.0" r="2.8" fill="#e8ceb1" stroke="#c9b79d" stroke-width="0.2"/>
<text x="723.6" y="286.69" font-size="3.1" fill="#1d1d1d" font-weight="normal" text-anchor="middle">Federated States</text>
<text x="723.6" y="290.08" font-size="3.1" fill="#1d1d1d" font-weight="normal" text-anchor="middle">of Micronesia</text>
<circle cx="723.6" cy="296.0" r="2.8" fill="#e8ceb1" stroke="#c9b79d" stroke-width="0.2"/>
<text x="782.0" y="290.08" font-size="3.1" fill="#1d1d1d" font-weight="normal" text-anchor="middle">Kiribati</text>
<circle cx="782.4" cy="294.6" r="2.8" fill="#b7dbf0" stroke="#c9b79d" stroke-width="0.2"/>
<path d="M782.4 291.8A2.8 2.8 0 0 1 782.4 297.40000000000003Z" fill="#c8343b"/>
<text x="699.0" y="309.69" font-size="3.1" fill="#1d1d1d" font-weight="normal" text-anchor="middle">Palau</text>
<circle cx="699.0" cy="314.4" r="2.8" fill="#e8ceb1" stroke="#c9b79d" stroke-width="0.2"/>
<text x="753.0" y="310.08" font-size="3.1" fill="#1d1d1d" font-weight="normal" text-anchor="middle">Nauru</text>
<circle cx="753.2" cy="314.4" r="2.8" fill="#e8ceb1" stroke="#c9b79d" stroke-width="0.2"/>
<text x="758.0" y="338.48" font-size="3.1" fill="#1d1d1d" font-weight="normal" text-anchor="middle">Solomon Islands</text>
<circle cx="758.0" cy="343.4" r="2.8" fill="#c8343b" stroke="#c9b79d" stroke-width="0.2"/>
<text x="787.6" y="341.69" font-size="3.1" fill="#1d1d1d" font-weight="normal" text-anchor="middle">Samoa</text>
<circle cx="787.6" cy="346.4" r="2.8" fill="#b7dbf0" stroke="#c9b79d" stroke-width="0.2"/>
<path d="M787.6 343.59999999999997A2.8 2.8 0 0 1 787.6 349.2Z" fill="#d97c3a"/>
<text x="734.0" y="352.62" font-size="3.5" fill="#1d1d1d" font-weight="bold" text-anchor="middle">Papua New Guinea</text>
<text x="675.0" y="358.58" font-size="3.1" fill="#1d1d1d" font-weight="normal" text-anchor="middle">Timor Leste</text>
<text x="770.0" y="356.88" font-size="3.1" fill="#1d1d1d" font-weight="normal" text-anchor="middle">Tuvalu</text>
<circle cx="771.2" cy="361.2" r="2.7" fill="#b7dbf0" stroke="#c9b79d" stroke-width="0.2"/>
<path d="M771.2 358.5A2.7 2.7 0 0 1 771.2 363.9Z" fill="#c8343b"/>
<text x="788.8" y="366.01" font-size="2.9" fill="#1d1d1d" font-weight="normal" text-anchor="middle">Cook Islands</text>
<circle cx="787.5" cy="370.0" r="2.7" fill="#b7dbf0" stroke="#c9b79d" stroke-width="0.2"/>
<path d="M787.5 367.3A2.7 2.7 0 0 1 787.5 372.7Z" fill="#d97c3a"/>
<text x="756.2" y="382.28" font-size="3.1" fill="#1d1d1d" font-weight="normal" text-anchor="middle">Vanuatu</text>
<circle cx="756.2" cy="387.5" r="2.7" fill="#ebf5fc" stroke="#c9b79d" stroke-width="0.2"/>
<text x="772.0" y="398.08" font-size="3.1" fill="#1d1d1d" font-weight="normal" text-anchor="middle">Fiji</text>
<circle cx="772.5" cy="402.5" r="2.7" fill="#1a3768" stroke="#c9b79d" stroke-width="0.2"/>
<circle cx="776.2" cy="406.2" r="3.08" fill="#8d1a21" stroke="#fff" stroke-opacity="0.55" stroke-width="0.43"/><path d="M775.35 405.7a0.85 0.95 0 1 1 1.7 0q0 0.9 -0.85 2.0q-0.85 -1.1 -0.85 -2.0z" fill="#fff"/><circle cx="776.2" cy="405.7" r="0.35" fill="#8d1a21"/>
<text x="787.5" y="409.88" font-size="3.1" fill="#1d1d1d" font-weight="normal" text-anchor="middle">Tonga</text>
<circle cx="787.0" cy="415.0" r="2.7" fill="#c8343b" stroke="#c9b79d" stroke-width="0.2"/>
<text x="687.5" y="408.51" font-size="6.6" fill="#fff" font-weight="normal" text-anchor="middle" textLength="25" lengthAdjust="spacingAndGlyphs">Australia</text>
<circle cx="683.8" cy="413.8" r="3.65" fill="#1f9a48" stroke="#fff" stroke-opacity="0.55" stroke-width="0.51"/><circle cx="683.03" cy="414.33" r="0.95" fill="none" stroke="#fff" stroke-width="0.47"/><circle cx="684.57" cy="414.33" r="0.95" fill="none" stroke="#fff" stroke-width="0.47"/><rect x="683.33" y="412.02" width="0.95" height="0.83" fill="#fff"/>
<circle cx="691.8" cy="413.8" r="3.65" fill="#1f9a48" stroke="#fff" stroke-opacity="0.55" stroke-width="0.51"/><path d="M690.2 412.97h1.07v2.61h-1.07zM692.33 412.97h1.07v2.61h-1.07zM691.44 413.92h0.71v1.66h-0.71z" fill="#fff"/><circle cx="690.73" cy="412.38" r="0.5" fill="#fff"/><circle cx="692.87" cy="412.38" r="0.5" fill="#fff"/>
<text x="752.5" y="449.47" font-size="4.2" fill="#1d1d1d" font-weight="bold" text-anchor="middle">New</text>
<text x="752.5" y="455.27" font-size="4.2" fill="#1d1d1d" font-weight="bold" text-anchor="middle">Zealand</text>
<circle cx="750.0" cy="460.5" r="3.42" fill="#1f9a48" stroke="#fff" stroke-opacity="0.55" stroke-width="0.48"/><circle cx="749.28" cy="461.0" r="0.89" fill="none" stroke="#fff" stroke-width="0.44"/><circle cx="750.72" cy="461.0" r="0.89" fill="none" stroke="#fff" stroke-width="0.44"/><rect x="749.56" y="458.83" width="0.89" height="0.78" fill="#fff"/>
<circle cx="758.0" cy="460.5" r="3.42" fill="#1f9a48" stroke="#fff" stroke-opacity="0.55" stroke-width="0.48"/><path d="M756.5 459.72h1.0v2.44h-1.0zM758.5 459.72h1.0v2.44h-1.0zM757.67 460.61h0.67v1.56h-0.67z" fill="#fff"/><circle cx="757.0" cy="459.17" r="0.47" fill="#fff"/><circle cx="759.0" cy="459.17" r="0.47" fill="#fff"/>
</g>
<text x="230" y="480.6" font-size="7.6" fill="#1d1d1d" font-weight="bold" textLength="107.5" lengthAdjust="spacingAndGlyphs">Protection against discrimination</text>
<text x="230" y="488.6" font-size="7.6" fill="#1d1d1d" font-weight="bold" textLength="89" lengthAdjust="spacingAndGlyphs">based on sexual orientation</text>
<text x="484.5" y="480.6" font-size="7.6" fill="#7a1220" font-weight="bold" textLength="126" lengthAdjust="spacingAndGlyphs">Criminalisation of consensual same-sex</text>
<text x="484.5" y="488.6" font-size="7.6" fill="#7a1220" font-weight="bold" textLength="87.3" lengthAdjust="spacingAndGlyphs">sexual acts between adults</text>
<rect x="230" y="492.3" width="201" height="0.9" fill="#b5ae9f"/>
<rect x="230" y="511.4" width="201" height="0.9" fill="#b5ae9f"/>
<rect x="230" y="527" width="201" height="0.9" fill="#8a8478"/>
<rect x="484" y="492.3" width="202" height="0.9" fill="#b5ae9f"/>
<rect x="484" y="511.4" width="202" height="0.9" fill="#b5ae9f"/>
<rect x="484" y="527" width="202" height="0.9" fill="#8a8478"/>
<rect x="230" y="494.2" width="49.3" height="15.6" fill="#1a3768"/>
<text x="232.7" y="500.8" font-size="4.45" fill="#fff" font-weight="bold">Constitutional</text>
<text x="232.7" y="506.1" font-size="4.45" fill="#fff" font-weight="bold">Protection</text>
<rect x="269.1" y="495.5" width="0.4" height="13" fill="#fff" opacity="0.35"/>
<text x="274.3" y="504.1" font-size="5" fill="#fff" font-weight="bold" text-anchor="middle">9</text>
<rect x="281" y="494.2" width="49" height="15.6" fill="#4573b9"/>
<text x="283.7" y="500.8" font-size="4.45" fill="#fff" font-weight="bold">Broad</text>
<text x="283.7" y="506.1" font-size="4.45" fill="#fff" font-weight="bold">Protection</text>
<rect x="319.8" y="495.5" width="0.4" height="13" fill="#fff" opacity="0.35"/>
<text x="325" y="504.1" font-size="5" fill="#fff" font-weight="bold" text-anchor="middle">52</text>
<rect x="331.8" y="494.2" width="49.0" height="15.6" fill="#b7dbf0"/>
<text x="334.5" y="500.8" font-size="4.45" fill="#222" font-weight="bold">Employment</text>
<text x="334.5" y="506.1" font-size="4.45" fill="#222" font-weight="bold">Protection</text>
<rect x="370.6" y="495.5" width="0.4" height="13" fill="#222" opacity="0.35"/>
<text x="375.8" y="504.1" font-size="5" fill="#4a7ab5" font-weight="bold" text-anchor="middle">73</text>
<rect x="382.5" y="494.2" width="48.3" height="15.6" fill="#ebf5fc"/>
<text x="385.2" y="500.8" font-size="4.45" fill="#222" font-weight="bold">Limited/Uneven</text>
<text x="385.2" y="506.1" font-size="4.45" fill="#222" font-weight="bold">Protection</text>
<rect x="420.6" y="495.5" width="0.4" height="13" fill="#222" opacity="0.35"/>
<text x="425.8" y="504.1" font-size="5" fill="#4a7ab5" font-weight="bold" text-anchor="middle">8</text>
<rect x="432.8" y="494.2" width="49.5" height="15.6" fill="#e8ceb1"/>
<text x="435.5" y="500.8" font-size="4.45" fill="#222" font-weight="bold">No Prot. /</text>
<text x="435.5" y="506.1" font-size="4.45" fill="#222" font-weight="bold">No Crim.</text>
<rect x="472.1" y="495.5" width="0.4" height="13" fill="#222" opacity="0.35"/>
<text x="477.3" y="504.1" font-size="5" fill="#222" font-weight="bold" text-anchor="middle">55</text>
<rect x="484.3" y="494.2" width="49.0" height="15.6" fill="#fbe08c"/>
<text x="487.0" y="500.8" font-size="4.45" fill="#222" font-weight="bold" font-style="italic">De Facto</text>
<text x="487.0" y="506.1" font-size="4.45" fill="#222" font-weight="bold">Criminalisation</text>
<rect x="523.0999999999999" y="495.5" width="0.4" height="13" fill="#222" opacity="0.35"/>
<text x="528.3" y="504.1" font-size="5" fill="#222" font-weight="bold" text-anchor="middle">2</text>
<rect x="535" y="494.2" width="49.3" height="15.6" fill="#d97c3a"/>
<text x="537.7" y="500.8" font-size="4.45" fill="#fbe3c8" font-weight="bold">Up to 8 Years</text>
<text x="537.7" y="506.1" font-size="4.45" fill="#fbe3c8" font-weight="bold">Imprisonment</text>
<rect x="574.0999999999999" y="495.5" width="0.4" height="13" fill="#fbe3c8" opacity="0.35"/>
<text x="579.3" y="504.1" font-size="5" fill="#fbe3c8" font-weight="bold" text-anchor="middle">31</text>
<rect x="586" y="494.2" width="49" height="15.6" fill="#c8343b"/>
<text x="588.7" y="500.8" font-size="4.45" fill="#fbdada" font-weight="bold">10 Years to</text>
<text x="588.7" y="506.1" font-size="4.45" fill="#fbdada" font-weight="bold">Life in Prison</text>
<rect x="624.8" y="495.5" width="0.4" height="13" fill="#fbdada" opacity="0.35"/>
<text x="630" y="504.1" font-size="5" fill="#fff" font-weight="bold" text-anchor="middle">26</text>
<rect x="637" y="494.2" width="48.8" height="15.6" fill="#7a1118"/>
<text x="639.7" y="500.8" font-size="4.45" fill="#fff" font-weight="bold">Death</text>
<text x="639.7" y="506.1" font-size="4.45" fill="#fff" font-weight="bold">Penalty</text>
<text x="664" y="500.7" font-size="4.6" fill="#fff" font-weight="bold">6</text>
<text x="664" y="506.5" font-size="4.6" fill="#fff" font-weight="bold">5</text>
<text x="668" y="500.5" font-size="3" fill="#e5a030" font-weight="bold" textLength="16" lengthAdjust="spacingAndGlyphs">(E) Effective</text>
<text x="668" y="506.3" font-size="3" fill="#e5a030" font-weight="bold" textLength="16" lengthAdjust="spacingAndGlyphs">(P) Possible</text>
<text x="230" y="524" font-size="7.6" fill="#1f7a3d" font-weight="bold" textLength="93" lengthAdjust="spacingAndGlyphs">Legal recognition of families</text>
<text x="484.5" y="524" font-size="7.6" fill="#7a1220" font-weight="bold" textLength="123.5" lengthAdjust="spacingAndGlyphs">Legal barriers to the exercise of rights</text>
<circle cx="237.7" cy="538.4" r="7" fill="#fbf7ef"/>
<circle cx="237.7" cy="538.4" r="6.3" fill="#189b42"/>
<circle cx="236.1" cy="539.8" r="2.1" fill="none" stroke="#fff" stroke-width="0.45"/><circle cx="239.29999999999998" cy="539.8" r="2.1" fill="none" stroke="#fff" stroke-width="0.45"/><path d="M236.6 534.8h2.2l0.4 0.6-1.5 1.5-1.5-1.5z" fill="#fff"/>
<circle cx="330" cy="538.3" r="7" fill="#fbf7ef"/>
<circle cx="330" cy="538.3" r="6.3" fill="#189b42"/>
<circle cx="327.9" cy="535.6999999999999" r="0.95" fill="#fff"/><circle cx="332.1" cy="535.6999999999999" r="0.95" fill="#fff"/><circle cx="330" cy="537.8" r="0.75" fill="#fff"/><path d="M326.7 537.0h2.4v5h-2.4zM330.9 537.0h2.4v5h-2.4zM329.25 538.9h1.5v3.1h-1.5z" fill="#fff"/>
<circle cx="490.5" cy="538.3" r="7" fill="#fbf7ef"/>
<circle cx="490.5" cy="538.3" r="6.4" fill="#760e14"/>
<circle cx="490.5" cy="538.3" r="5.6" fill="none" stroke="#b8202a" stroke-width="0.7"/>
<path d="M487.1 537.4l1.7-0.2 3.2-2.3q1.2 3.2 0 6.6l-3.2-2.3-1.7-0.2zM488.3 539.5999999999999l0.7 2.4h-1.1l-0.9-2.4z" fill="#fff"/><path d="M486.5 534.3L494.5 542.3" stroke="#b8202a" stroke-width="0.9"/>
<circle cx="589.2" cy="538.3" r="7" fill="#fbf7ef"/>
<circle cx="589.2" cy="538.3" r="6.4" fill="#760e14"/>
<circle cx="589.2" cy="538.3" r="5.6" fill="none" stroke="#b8202a" stroke-width="0.7"/>
<path d="M587.4000000000001 541.9v-2.2l-1.4-2.2 0.8-0.6 1.2 1.3v-3.6h0.9v2.6h0.5v-3.3h0.9v3.3h0.5v-2.9h0.9v3.1h0.4v-2h0.9v4.4l-0.7 2.1z" fill="#fff"/><path d="M585.2 534.3L593.2 542.3" stroke="#b8202a" stroke-width="0.9"/>
<text x="247" y="537.3" font-size="3.9" fill="#222" font-weight="bold" textLength="70" lengthAdjust="spacingAndGlyphs">Marriage or other forms of legal union</text>
<text x="247" y="542.9" font-size="3.9" fill="#222" font-weight="bold" textLength="38.5" lengthAdjust="spacingAndGlyphs">for same-sex couples</text>
<text x="340.5" y="537.3" font-size="3.9" fill="#222" font-weight="bold" textLength="32" lengthAdjust="spacingAndGlyphs">Adoption open to</text>
<text x="340.5" y="542.9" font-size="3.9" fill="#222" font-weight="bold" textLength="32" lengthAdjust="spacingAndGlyphs">same-sex couples</text>
<text x="500" y="537.3" font-size="3.9" fill="#222" font-weight="bold" textLength="72" lengthAdjust="spacingAndGlyphs">Legal barriers to freedom of expression</text>
<text x="500" y="542.9" font-size="3.9" fill="#222" font-weight="bold" textLength="34.5" lengthAdjust="spacingAndGlyphs">on SOGIESC issues</text>
<text x="599.6" y="537.3" font-size="3.9" fill="#222" font-weight="bold" textLength="83.4" lengthAdjust="spacingAndGlyphs">Legal barriers to the registration or operation</text>
<text x="599.6" y="542.9" font-size="3.9" fill="#222" font-weight="bold" textLength="63" lengthAdjust="spacingAndGlyphs">of sexual orientation related CSOs</text>
<ellipse cx="50.5" cy="449" rx="8.5" ry="7.5" fill="#6b4fa5"/>
<circle cx="58.7" cy="475" r="16.8" fill="#fdc010"/>
<ellipse cx="43.5" cy="485.5" rx="11" ry="6" fill="#4a86c8" transform="rotate(22 43.5 485.5)"/>
<path d="M40.5 444.3C47 448 52.5 456 51 466C49.5 473 43 477.5 33 477.8C28 473 26.5 464 29.5 456C32 450 36 446 40.5 444.3Z" fill="#ec2f35"/>
<ellipse cx="68.3" cy="450.5" rx="15.5" ry="10.3" fill="#f47223" transform="rotate(24 68.3 450.5)"/>
<path d="M74 463.6C80 464 83.5 468 82.6 474C81 483 73 491 63.5 492.8C60 488 60 479 63 472.5C65.5 467.5 69.5 464.5 74 463.6Z" fill="#2ab24b"/>
<text x="16.6" y="519.4" font-size="33" fill="#23282d" font-weight="bold" textLength="62.5" lengthAdjust="spacingAndGlyphs" font-family="'DejaVu Sans','Liberation Sans',sans-serif">ilga</text>
<text x="58" y="527.7" font-size="8.2" fill="#23282d" font-weight="bold" textLength="20.7" lengthAdjust="spacingAndGlyphs" font-family="'DejaVu Sans','Liberation Sans',sans-serif">world</text>
<text x="13.4" y="537.2" font-size="4.25" fill="#2b2b2b" textLength="157.6" lengthAdjust="spacingAndGlyphs">The data presented in this map is based on <tspan font-weight="bold" font-style="italic">State-Sponsored Homophobia</tspan>, an ILGA report</text>
<text x="13.4" y="542.7" font-size="4.25" fill="#2b2b2b" font-weight="normal" textLength="155.9" lengthAdjust="spacingAndGlyphs">by Lucas Ramón Mendos. This map can be reproduced and printed without permission</text>
<text x="13.4" y="548.2" font-size="4.25" fill="#2b2b2b" textLength="133.2" lengthAdjust="spacingAndGlyphs">as long as ILGA is properly credited and the content is not altered. <tspan font-weight="bold">ilga.org</tspan></text>
</svg>
</body></html>
